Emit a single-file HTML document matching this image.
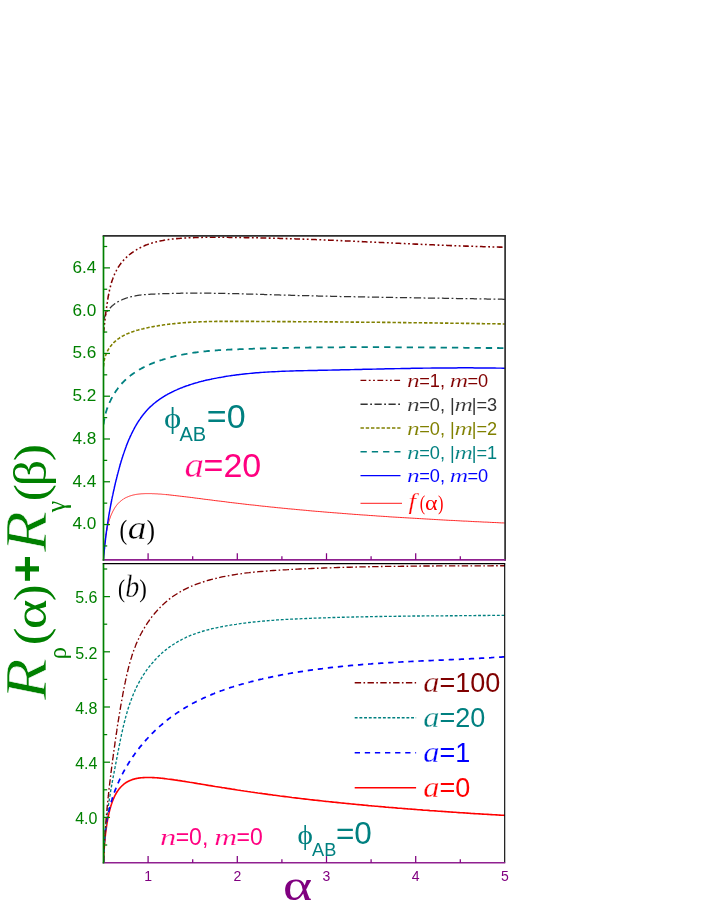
<!DOCTYPE html>
<html><head><meta charset="utf-8"><title>chart</title>
<style>html,body{margin:0;padding:0;background:#fff;}svg{display:block;will-change:transform;}text{font-family:"Liberation Sans",sans-serif;}.s{font-family:"Liberation Serif",serif;}.i{font-family:"Liberation Serif",serif;font-style:italic;}.b{font-weight:bold;}</style></head><body>
<svg width="706" height="913" viewBox="0 0 706 913">
<rect width="706" height="913" fill="#fff"/>
<defs><clipPath id="ca"><rect x="103.5" y="235.9" width="401.9" height="323.95000000000005"/></clipPath><clipPath id="cb"><rect x="103.5" y="563.7" width="401.9" height="299.0"/></clipPath></defs>
<g fill="none" clip-path="url(#ca)" stroke-linecap="butt">
<path d="M103.5,559.2 103.8,554.1 104.0,550.7 104.3,547.8 104.5,545.3 104.8,543.0 105.0,541.0 105.3,539.1 105.5,537.4 105.8,535.8 106.0,534.2 106.3,532.8 106.5,531.5 106.8,530.2 107.0,529.0 107.3,527.8 107.5,526.7 107.8,525.7 108.0,524.7 108.3,523.7 108.5,522.8 108.8,521.9 109.0,521.1 109.3,520.2 109.5,519.5 109.8,518.7 110.0,518.0 110.3,517.3 110.5,516.6 110.8,515.9 111.0,515.3 111.3,514.7 111.5,514.1 111.8,513.5 112.0,513.0 112.3,512.5 112.5,511.9 112.8,511.4 113.0,510.9 113.3,510.5 113.5,510.0 113.8,509.6 114.0,509.1 114.3,508.7 114.5,508.3 114.8,507.9 115.0,507.5 115.3,507.1 115.5,506.8 115.8,506.4 116.0,506.1 116.3,505.7 116.5,505.4 116.8,505.1 117.0,504.8 117.3,504.5 117.5,504.2 117.8,503.9 118.0,503.6 118.3,503.3 118.5,503.1 118.8,502.8 119.0,502.6 119.3,502.3 119.5,502.1 119.8,501.8 120.1,501.6 120.3,501.4 120.6,501.2 120.8,501.0 121.1,500.8 121.3,500.6 121.6,500.4 121.8,500.2 122.1,500.0 122.3,499.8 122.6,499.6 122.8,499.5 123.1,499.3 123.3,499.1 123.6,499.0 123.8,498.8 124.1,498.6 124.3,498.5 124.6,498.4 124.8,498.2 125.1,498.1 125.3,497.9 125.6,497.8 125.8,497.7 126.1,497.6 126.3,497.4 126.6,497.3 126.8,497.2 127.1,497.1 127.3,497.0 127.6,496.9 127.8,496.8 128.1,496.7 128.3,496.6 128.6,496.5 128.8,496.4 129.1,496.3 129.3,496.2 129.6,496.1 129.8,496.0 130.1,495.9 130.3,495.8 130.6,495.8 130.8,495.7 131.1,495.6 131.3,495.5 131.6,495.5 131.8,495.4 132.1,495.3 132.3,495.3 132.6,495.2 132.8,495.1 133.1,495.1 133.3,495.0 133.6,494.9 133.8,494.9 134.1,494.8 134.3,494.8 134.6,494.7 134.8,494.7 135.1,494.6 135.3,494.6 135.6,494.5 135.8,494.5 136.1,494.5 136.3,494.4 136.6,494.4 136.9,494.3 137.1,494.3 137.4,494.3 137.6,494.2 137.9,494.2 138.1,494.2 138.4,494.1 138.6,494.1 138.9,494.1 139.1,494.0 139.4,494.0 139.6,494.0 139.9,494.0 140.1,493.9 140.4,493.9 140.6,493.9 140.9,493.9 141.1,493.8 141.4,493.8 141.6,493.8 141.9,493.8 142.1,493.8 142.4,493.8 142.6,493.7 142.9,493.7 143.1,493.7 143.4,493.7 143.6,493.7 143.9,493.7 144.1,493.7 144.4,493.7 144.6,493.6 144.9,493.6 145.1,493.6 145.4,493.6 145.6,493.6 145.9,493.6 146.1,493.6 146.4,493.6 146.6,493.6 146.9,493.6 147.1,493.6 147.4,493.6 147.6,493.6 147.9,493.6 148.1,493.6 148.4,493.6 148.6,493.6 148.9,493.6 149.1,493.6 149.4,493.6 149.6,493.6 149.9,493.6 150.1,493.6 150.4,493.6 150.6,493.6 150.9,493.6 151.1,493.6 151.4,493.6 151.6,493.6 151.9,493.6 152.1,493.7 152.4,493.7 152.6,493.7 152.9,493.7 153.2,493.7 153.4,493.7 153.7,493.7 153.9,493.7 154.2,493.7 154.4,493.7 154.7,493.8 154.9,493.8 155.2,493.8 155.4,493.8 155.7,493.8 155.9,493.8 156.2,493.8 156.4,493.8 156.7,493.9 156.9,493.9 157.2,493.9 157.4,493.9 157.7,493.9 157.9,493.9 158.2,494.0 158.4,494.0 158.7,494.0 158.9,494.0 159.2,494.0 159.4,494.0 159.7,494.1 159.9,494.1 160.2,494.1 160.4,494.1 160.7,494.1 160.9,494.2 161.2,494.2 161.4,494.2 161.7,494.2 161.9,494.2 162.2,494.3 162.4,494.3 162.7,494.3 162.9,494.3 163.2,494.3 163.4,494.4 163.7,494.4 163.9,494.4 164.2,494.4 164.4,494.4 164.7,494.5 164.9,494.5 165.2,494.5 165.4,494.5 165.7,494.6 165.9,494.6 167.6,494.7 169.3,494.9 171.0,495.1 172.8,495.3 174.5,495.5 176.2,495.7 177.9,495.9 179.6,496.1 181.3,496.3 183.0,496.5 184.7,496.7 186.4,496.9 188.1,497.1 189.8,497.3 191.5,497.5 193.2,497.7 194.9,498.0 196.6,498.2 198.3,498.4 200.0,498.6 201.7,498.8 203.4,499.1 205.1,499.3 206.8,499.5 208.5,499.7 210.2,499.9 211.9,500.1 213.6,500.4 215.3,500.6 217.0,500.8 218.7,501.0 220.4,501.2 222.1,501.4 223.9,501.6 225.6,501.8 227.3,502.1 229.0,502.3 230.7,502.5 232.4,502.7 234.1,502.9 235.8,503.1 237.5,503.3 239.2,503.5 240.9,503.7 242.6,503.9 244.3,504.1 246.0,504.3 247.7,504.5 249.4,504.7 251.1,504.9 252.8,505.0 254.5,505.2 256.2,505.4 257.9,505.6 259.6,505.8 261.3,506.0 263.0,506.2 264.7,506.3 266.4,506.5 268.1,506.7 269.8,506.9 271.5,507.1 273.2,507.2 275.0,507.4 276.7,507.6 278.4,507.8 280.1,507.9 281.8,508.1 283.5,508.3 285.2,508.4 286.9,508.6 288.6,508.8 290.3,508.9 292.0,509.1 293.7,509.2 295.4,509.4 297.1,509.6 298.8,509.7 300.5,509.9 302.2,510.0 303.9,510.2 305.6,510.3 307.3,510.5 309.0,510.7 310.7,510.8 312.4,511.0 314.1,511.1 315.8,511.3 317.5,511.4 319.2,511.5 320.9,511.7 322.6,511.8 324.3,512.0 326.1,512.1 327.8,512.3 329.5,512.4 331.2,512.5 332.9,512.7 334.6,512.8 336.3,512.9 338.0,513.1 339.7,513.2 341.4,513.3 343.1,513.5 344.8,513.6 346.5,513.7 348.2,513.9 349.9,514.0 351.6,514.1 353.3,514.3 355.0,514.4 356.7,514.5 358.4,514.6 360.1,514.8 361.8,514.9 363.5,515.0 365.2,515.1 366.9,515.2 368.6,515.4 370.3,515.5 372.0,515.6 373.7,515.7 375.4,515.8 377.2,516.0 378.9,516.1 380.6,516.2 382.3,516.3 384.0,516.4 385.7,516.5 387.4,516.6 389.1,516.8 390.8,516.9 392.5,517.0 394.2,517.1 395.9,517.2 397.6,517.3 399.3,517.4 401.0,517.5 402.7,517.6 404.4,517.7 406.1,517.8 407.8,517.9 409.5,518.0 411.2,518.1 412.9,518.2 414.6,518.3 416.3,518.4 418.0,518.5 419.7,518.6 421.4,518.7 423.1,518.8 424.8,518.9 426.5,519.0 428.3,519.1 430.0,519.2 431.7,519.3 433.4,519.4 435.1,519.5 436.8,519.6 438.5,519.7 440.2,519.8 441.9,519.9 443.6,520.0 445.3,520.1 447.0,520.2 448.7,520.3 450.4,520.4 452.1,520.4 453.8,520.5 455.5,520.6 457.2,520.7 458.9,520.8 460.6,520.9 462.3,521.0 464.0,521.1 465.7,521.1 467.4,521.2 469.1,521.3 470.8,521.4 472.5,521.5 474.2,521.6 475.9,521.7 477.6,521.7 479.4,521.8 481.1,521.9 482.8,522.0 484.5,522.1 486.2,522.1 487.9,522.2 489.6,522.3 491.3,522.4 493.0,522.5 494.7,522.5 496.4,522.6 498.1,522.7 499.8,522.8 501.5,522.9 503.2,522.9 504.9,523.0" stroke="#ff0000" stroke-width="0.85"/>
<path d="M103.5,559.3 103.6,558.0 103.7,557.3 103.7,556.7 103.8,555.3 103.8,555.2 104.0,554.0 104.0,553.2 104.1,552.7 104.2,551.4 104.2,551.2 104.3,550.1 104.4,549.1 104.5,548.8 104.6,547.5 104.6,547.1 104.7,546.2 104.8,545.1 104.9,544.9 105.0,543.6 105.1,543.1 105.2,542.3 105.3,541.1 105.3,541.0 105.5,539.7 105.5,539.0 105.6,538.4 105.8,537.1 105.8,537.0 105.9,535.8 106.0,535.0 106.1,534.5 106.3,533.2 106.3,533.0 106.4,531.9 106.5,531.0 106.6,530.6 106.8,529.4 106.8,529.0 106.9,528.1 107.1,527.0 107.1,526.8 107.3,525.5 107.4,525.1 107.5,524.2 107.7,523.1 107.7,522.9 107.9,521.6 108.0,521.1 108.1,520.4 108.3,519.1 108.3,519.1 108.5,517.8 108.6,517.1 108.7,516.5 108.9,515.2 108.9,515.1 109.1,514.0 109.3,513.1 109.3,512.7 109.6,511.4 109.6,511.2 109.8,510.1 110.0,509.2 110.0,508.9 110.3,507.6 110.3,507.2 110.5,506.3 110.7,505.2 110.7,505.0 111.0,503.8 111.1,503.3 111.2,502.5 111.5,501.3 111.5,501.2 111.7,499.9 111.8,499.3 112.0,498.7 112.2,497.4 112.2,497.4 112.5,496.1 112.7,495.4 112.8,494.9 113.0,493.6 113.1,493.4 113.3,492.3 113.5,491.4 113.6,491.0 113.9,489.8 113.9,489.5 114.2,488.5 114.4,487.5 114.4,487.2 114.7,486.0 114.8,485.5 115.0,484.7 115.3,483.6 115.3,483.4 115.6,482.1 115.8,481.6 115.9,480.9 116.2,479.6 116.3,479.6 116.6,478.3 116.7,477.6 116.9,477.0 117.2,475.8 117.2,475.7 117.5,474.5 117.7,473.7 117.9,473.2 118.2,471.9 118.3,471.7 118.5,470.7 118.8,469.7 118.9,469.4 119.2,468.1 119.3,467.8 119.6,466.8 119.9,465.8 119.9,465.6 120.3,464.3 120.4,463.8 120.7,463.0 121.0,461.8 121.0,461.8 121.4,460.5 121.6,459.9 121.8,459.2 122.2,458.0 122.2,457.9 122.6,456.7 122.8,456.0 123.0,455.4 123.4,454.2 123.5,454.0 123.9,452.9 124.1,452.1 124.3,451.7 124.7,450.4 124.8,450.1 125.2,449.2 125.5,448.2 125.6,447.9 126.1,446.7 126.2,446.3 126.5,445.4 127.0,444.4 127.0,444.2 127.5,443.0 127.7,442.5 128.0,441.8 128.5,440.6 128.5,440.5 129.0,439.3 129.3,438.7 129.6,438.1 130.1,436.9 130.1,436.8 130.7,435.7 131.0,435.0 131.2,434.5 131.8,433.3 131.9,433.1 132.4,432.1 132.8,431.3 133.0,431.0 133.6,429.8 133.7,429.5 134.2,428.6 134.7,427.7 134.8,427.5 135.4,426.3 135.7,425.9 136.1,425.2 136.7,424.2 136.8,424.1 137.4,423.0 137.8,422.4 138.1,421.8 138.8,420.8 138.9,420.7 139.6,419.7 140.0,419.1 140.3,418.6 141.0,417.5 141.1,417.4 141.8,416.5 142.3,415.8 142.6,415.5 143.4,414.5 143.5,414.2 144.2,413.5 144.8,412.7 145.0,412.5 145.8,411.5 146.1,411.2 146.7,410.6 147.4,409.7 147.5,409.6 148.4,408.7 148.8,408.3 149.3,407.8 150.2,406.9 150.2,406.9 151.2,406.0 151.7,405.6 152.1,405.2 153.1,404.4 153.1,404.3 154.0,403.5 154.7,403.0 155.0,402.7 156.0,401.9 156.2,401.8 157.0,401.2 157.8,400.6 158.1,400.4 159.1,399.7 159.4,399.5 160.1,398.9 161.0,398.4 161.2,398.2 162.3,397.5 162.7,397.3 163.3,396.8 164.3,396.2 164.4,396.2 165.5,395.5 166.1,395.2 166.7,394.9 167.8,394.2 167.8,394.2 168.9,393.6 169.5,393.3 170.0,393.0 171.2,392.4 171.3,392.4 172.3,391.8 173.1,391.5 173.5,391.3 174.7,390.7 174.9,390.6 175.9,390.2 176.8,389.8 177.0,389.7 178.2,389.1 178.6,389.0 179.4,388.6 180.5,388.2 180.6,388.1 181.8,387.7 182.3,387.5 183.1,387.2 184.2,386.7 184.3,386.7 185.5,386.3 186.1,386.0 186.8,385.8 188.0,385.4 188.1,385.4 189.2,385.0 190.0,384.7 190.5,384.6 191.7,384.2 191.9,384.1 193.0,383.8 193.9,383.5 194.3,383.4 195.5,383.0 195.9,382.9 196.8,382.7 197.8,382.4 198.1,382.3 199.4,381.9 199.8,381.8 200.6,381.6 201.8,381.3 201.9,381.3 203.2,381.0 203.8,380.8 204.5,380.6 205.8,380.3 205.8,380.3 207.1,380.0 207.8,379.9 208.4,379.7 209.7,379.5 209.8,379.4 211.0,379.2 211.8,379.0 212.3,378.9 213.6,378.6 213.8,378.6 214.9,378.4 215.9,378.2 216.2,378.1 217.5,377.9 217.9,377.8 218.8,377.6 219.9,377.4 220.1,377.4 221.4,377.2 221.9,377.1 222.7,377.0 223.9,376.8 224.0,376.7 225.3,376.5 225.9,376.4 226.6,376.3 227.9,376.1 228.0,376.1 229.2,375.9 230.0,375.8 230.5,375.7 231.8,375.5 232.0,375.5 233.1,375.4 234.0,375.2 234.4,375.2 235.7,375.0 236.0,375.0 237.0,374.8 238.1,374.7 238.3,374.7 239.6,374.5 240.1,374.5 240.9,374.4 242.1,374.2 244.1,374.0 246.1,373.8 248.1,373.6 250.2,373.4 252.2,373.2 254.2,373.0 256.2,372.8 258.2,372.7 260.2,372.5 262.3,372.4 264.3,372.2 266.3,372.1 268.3,372.0 270.3,371.9 272.4,371.8 274.4,371.7 276.4,371.6 278.4,371.5 280.4,371.4 282.4,371.3 284.5,371.2 286.5,371.1 288.5,371.1 290.5,371.0 292.5,371.0 294.6,370.9 296.6,370.8 298.6,370.8 300.6,370.7 302.6,370.7 304.7,370.6 306.7,370.6 308.7,370.5 310.7,370.5 312.7,370.5 314.8,370.4 316.8,370.4 318.8,370.3 320.8,370.3 322.8,370.2 324.8,370.2 326.9,370.2 328.9,370.1 330.9,370.1 332.9,370.0 334.9,370.0 337.0,369.9 339.0,369.9 341.0,369.8 343.0,369.8 345.1,369.8 347.1,369.7 349.1,369.7 351.1,369.6 353.1,369.6 355.2,369.5 357.2,369.5 359.2,369.4 361.2,369.4 363.2,369.3 365.3,369.3 367.3,369.2 369.3,369.2 371.3,369.2 373.3,369.1 375.4,369.1 377.4,369.0 379.4,369.0 381.4,368.9 383.5,368.9 385.5,368.8 387.5,368.8 389.5,368.8 391.5,368.7 393.6,368.7 395.6,368.6 397.6,368.6 399.6,368.6 401.7,368.5 403.7,368.5 405.7,368.4 407.7,368.4 409.8,368.4 411.8,368.3 413.8,368.3 415.8,368.3 417.9,368.2 419.9,368.2 421.9,368.2 423.9,368.1 425.9,368.1 428.0,368.1 430.0,368.1 432.0,368.0 434.0,368.0 436.1,368.0 438.1,368.0 440.1,368.0 442.1,367.9 444.2,367.9 446.2,367.9 448.2,367.9 450.3,367.9 452.3,367.9 454.3,367.9 456.3,367.9 458.4,367.8 460.4,367.8 462.4,367.8 464.4,367.8 466.5,367.8 468.5,367.8 470.5,367.8 472.5,367.8 474.6,367.9 476.6,367.9 478.6,367.9 480.7,367.9 482.7,367.9 484.7,367.9 486.7,367.9 488.8,368.0 490.8,368.0 492.8,368.0 494.9,368.0 496.9,368.1 498.9,368.1 500.9,368.1 503.0,368.2 505.0,368.2" stroke="#0000ff" stroke-width="1.45"/>
<path d="M103.6,424.5 103.7,423.2 103.8,422.8 103.9,421.9 104.0,421.1 104.1,420.6 104.3,419.5 104.3,419.3 104.5,418.0 104.6,417.8 104.8,416.7 104.9,416.1 105.1,415.4 105.3,414.5 105.4,414.2 105.8,412.9 105.8,412.8 106.1,411.6 106.3,411.2 106.5,410.4 106.8,409.6 106.9,409.1 107.3,408.0 107.4,407.9 107.8,406.6 107.9,406.4 108.3,405.4 108.6,404.8 108.8,404.2 109.2,403.3 109.3,403.0 109.9,401.8 109.9,401.7 110.5,400.6 110.7,400.2 111.0,399.5 111.4,398.7 111.6,398.3 112.2,397.2 112.2,397.1 112.9,396.0 113.0,395.7 113.5,394.9 113.9,394.3 114.2,393.8 114.8,392.9 114.9,392.7 115.6,391.6 115.7,391.5 116.3,390.5 116.6,390.1 117.1,389.4 117.6,388.7 117.8,388.4 118.6,387.4 118.6,387.4 119.4,386.4 119.6,386.1 120.2,385.4 120.7,384.8 121.0,384.4 121.8,383.6 121.9,383.4 122.8,382.5 122.9,382.4 123.7,381.6 124.1,381.2 124.6,380.7 125.3,380.0 125.5,379.8 126.5,378.9 126.5,378.9 127.4,378.1 127.7,377.8 128.4,377.2 129.0,376.7 129.4,376.4 130.3,375.7 130.4,375.6 131.5,374.8 131.6,374.7 132.5,374.1 133.0,373.7 133.6,373.3 134.4,372.8 134.7,372.6 135.7,371.9 135.8,371.8 136.8,371.2 137.2,370.9 138.0,370.5 138.7,370.1 139.1,369.8 140.1,369.2 140.2,369.2 141.4,368.5 141.6,368.4 142.5,367.9 143.1,367.6 143.7,367.3 144.7,366.8 144.9,366.7 146.1,366.1 146.2,366.1 147.3,365.5 147.7,365.3 148.5,365.0 149.3,364.6 149.7,364.5 150.9,364.0 150.9,363.9 152.2,363.4 152.5,363.3 153.4,362.9 154.1,362.7 154.6,362.4 155.7,362.0 155.9,362.0 157.1,361.5 157.3,361.5 158.4,361.1 158.9,360.9 159.6,360.6 160.5,360.3 160.9,360.2 162.2,359.8 162.2,359.8 163.4,359.4 163.8,359.3 164.7,359.0 165.4,358.8 166.0,358.6 167.1,358.3 167.2,358.2 168.5,357.9 168.7,357.8 169.8,357.5 170.3,357.4 171.1,357.2 172.0,356.9 172.3,356.9 173.6,356.5 173.6,356.5 174.9,356.2 175.3,356.1 176.1,355.9 176.9,355.8 177.4,355.6 178.6,355.4 178.7,355.4 180.0,355.1 180.2,355.0 181.2,354.8 181.9,354.7 182.5,354.6 183.5,354.4 183.8,354.3 185.1,354.1 185.2,354.1 186.4,353.9 186.8,353.8 187.6,353.6 188.5,353.5 188.9,353.4 190.1,353.2 190.2,353.2 191.5,353.0 191.8,353.0 192.8,352.8 193.4,352.7 194.0,352.6 195.1,352.5 195.3,352.5 196.6,352.3 196.7,352.3 197.9,352.1 198.4,352.1 199.2,352.0 200.0,351.9 200.5,351.8 201.7,351.7 201.7,351.7 203.0,351.5 203.4,351.5 204.3,351.4 205.0,351.3 205.6,351.3 206.7,351.1 206.9,351.1 208.2,351.0 208.3,351.0 209.5,350.9 210.0,350.8 210.7,350.8 211.7,350.7 212.0,350.7 213.3,350.6 213.3,350.6 214.6,350.5 215.0,350.5 215.9,350.4 216.7,350.3 217.2,350.3 218.3,350.2 218.5,350.2 219.8,350.1 220.0,350.1 221.1,350.1 221.7,350.0 222.4,350.0 223.3,349.9 223.6,349.9 224.9,349.8 225.0,349.8 226.2,349.8 226.7,349.8 227.5,349.7 228.3,349.7 228.8,349.7 230.0,349.6 230.1,349.6 231.4,349.5 231.7,349.5 232.7,349.5 233.4,349.5 234.0,349.4 235.0,349.4 235.3,349.4 236.6,349.3 236.7,349.3 237.9,349.3 238.4,349.3 239.2,349.2 240.0,349.2 240.5,349.2 241.7,349.1 241.8,349.1 243.1,349.1 243.4,349.1 244.4,349.0 245.1,349.0 245.7,349.0 246.8,349.0 247.0,349.0 248.3,348.9 248.4,348.9 249.6,348.9 250.1,348.8 250.9,348.8 251.8,348.8 252.2,348.8 253.5,348.7 253.5,348.7 254.8,348.7 255.2,348.7 256.1,348.7 256.8,348.6 257.4,348.6 258.5,348.6 258.7,348.6 260.0,348.5 260.2,348.5 261.3,348.5 261.9,348.5 262.6,348.5 263.6,348.4 263.9,348.4 265.2,348.4 265.3,348.4 266.5,348.4 266.9,348.4 267.8,348.3 268.6,348.3 269.1,348.3 270.3,348.3 270.4,348.3 271.8,348.2 272.0,348.2 273.1,348.2 273.7,348.2 274.4,348.2 275.4,348.1 275.7,348.1 277.0,348.1 277.1,348.1 278.3,348.1 278.7,348.1 279.6,348.1 280.4,348.0 280.9,348.0 282.1,348.0 282.2,348.0 283.5,348.0 283.8,348.0 284.8,347.9 285.5,347.9 286.1,347.9 287.2,347.9 287.4,347.9 288.8,347.9 288.9,347.9 290.1,347.8 290.6,347.8 291.4,347.8 292.3,347.8 292.7,347.8 293.9,347.8 294.0,347.8 295.3,347.7 295.6,347.7 296.6,347.7 297.3,347.7 297.9,347.7 299.0,347.7 299.2,347.7 300.6,347.7 300.7,347.7 301.9,347.6 302.4,347.6 303.2,347.6 304.1,347.6 304.5,347.6 305.8,347.6 305.8,347.6 307.1,347.6 307.5,347.6 308.4,347.6 309.2,347.5 309.7,347.5 310.9,347.5 311.0,347.5 312.4,347.5 312.6,347.5 313.7,347.5 314.3,347.5 315.0,347.5 316.0,347.5 316.3,347.5 317.6,347.4 317.7,347.4 318.9,347.4 319.4,347.4 320.2,347.4 321.0,347.4 321.6,347.4 322.7,347.4 322.9,347.4 324.2,347.4 324.4,347.4 325.5,347.4 326.1,347.4 326.8,347.4 327.8,347.3 328.1,347.3 329.5,347.3 331.2,347.3 332.9,347.3 334.6,347.3 336.3,347.3 338.0,347.3 339.7,347.3 341.4,347.3 343.1,347.2 344.8,347.2 346.5,347.2 348.2,347.2 349.9,347.2 351.6,347.2 353.3,347.2 355.0,347.2 356.7,347.2 358.4,347.2 360.1,347.2 361.8,347.2 363.5,347.2 365.2,347.2 366.9,347.2 368.6,347.2 370.3,347.2 372.0,347.2 373.7,347.2 375.4,347.2 377.1,347.2 378.7,347.2 380.4,347.2 382.1,347.2 383.8,347.2 385.5,347.2 387.2,347.2 388.9,347.2 390.6,347.2 392.3,347.2 394.0,347.3 395.7,347.3 397.4,347.3 399.1,347.3 400.8,347.3 402.5,347.3 404.2,347.3 405.9,347.3 407.6,347.3 409.3,347.3 411.0,347.3 412.6,347.4 414.3,347.4 416.0,347.4 417.7,347.4 419.4,347.4 421.1,347.4 422.8,347.4 424.5,347.4 426.2,347.4 427.9,347.5 429.6,347.5 431.2,347.5 432.9,347.5 434.6,347.5 436.3,347.5 438.0,347.5 439.7,347.5 441.4,347.6 443.1,347.6 444.7,347.6 446.4,347.6 448.1,347.6 449.8,347.6 451.5,347.6 453.2,347.7 454.8,347.7 456.5,347.7 458.2,347.7 459.9,347.7 461.6,347.7 463.2,347.7 464.9,347.8 466.6,347.8 468.3,347.8 469.9,347.8 471.6,347.8 473.3,347.8 475.0,347.9 476.6,347.9 478.3,347.9 480.0,347.9 481.7,347.9 483.3,347.9 485.0,347.9 486.7,348.0 488.3,348.0 490.0,348.0 491.7,348.0 493.4,348.0 495.0,348.0 496.7,348.0 498.3,348.0 500.0,348.1 501.7,348.1 503.3,348.1 505.0,348.1" stroke="#008080" stroke-width="1.8" stroke-dasharray="6.3 5"/>
<path d="M103.6,366.5 103.6,365.1 103.7,364.7 103.8,363.7 103.8,363.0 103.9,362.3 104.1,361.3 104.1,361.0 104.4,359.6 104.4,359.6 104.7,358.3 104.8,358.0 105.0,357.1 105.2,356.4 105.5,355.8 105.8,354.9 105.9,354.6 106.4,353.4 106.4,353.4 106.9,352.2 107.1,351.9 107.5,351.0 107.8,350.5 108.1,349.9 108.6,349.1 108.8,348.8 109.5,347.8 109.5,347.8 110.2,346.7 110.4,346.5 111.0,345.7 111.4,345.3 111.8,344.8 112.4,344.1 112.7,343.8 113.5,342.9 113.5,342.9 114.4,342.0 114.6,341.8 115.4,341.2 115.8,340.8 116.3,340.3 117.0,339.8 117.3,339.5 118.3,338.8 118.3,338.8 119.4,338.1 119.6,337.9 120.4,337.4 120.9,337.1 121.5,336.7 122.2,336.3 122.6,336.1 123.6,335.5 123.7,335.5 124.9,334.9 125.1,334.8 126.0,334.3 126.5,334.1 127.2,333.8 128.0,333.5 128.4,333.3 129.5,332.9 129.6,332.8 130.8,332.4 131.0,332.3 132.0,331.9 132.5,331.7 133.3,331.5 134.1,331.2 134.5,331.1 135.6,330.7 135.8,330.7 137.0,330.3 137.2,330.3 138.3,330.0 138.8,329.8 139.6,329.6 140.4,329.4 140.9,329.3 142.0,329.0 142.2,329.0 143.4,328.7 143.6,328.6 144.7,328.4 145.2,328.3 146.0,328.1 146.9,327.9 147.3,327.8 148.5,327.6 148.6,327.5 149.9,327.3 150.1,327.2 151.2,327.0 151.7,326.9 152.5,326.8 153.3,326.6 153.8,326.5 154.9,326.3 155.1,326.3 156.4,326.1 156.6,326.0 157.7,325.9 158.2,325.8 159.0,325.6 159.8,325.5 160.3,325.4 161.4,325.3 161.6,325.2 162.9,325.0 163.0,325.0 164.2,324.8 164.6,324.8 165.5,324.7 166.3,324.6 166.8,324.5 167.9,324.3 168.1,324.3 169.4,324.2 169.5,324.1 170.7,324.0 171.1,324.0 172.0,323.9 172.7,323.8 173.3,323.7 174.4,323.6 174.6,323.6 175.9,323.4 176.0,323.4 177.2,323.3 177.6,323.3 178.5,323.2 179.2,323.1 179.8,323.1 180.8,323.0 181.1,323.0 182.4,322.8 182.5,322.8 183.7,322.7 184.1,322.7 185.0,322.6 185.7,322.6 186.3,322.6 187.3,322.5 187.6,322.5 188.9,322.4 188.9,322.4 190.2,322.3 190.6,322.3 191.5,322.2 192.2,322.2 192.8,322.2 193.8,322.1 194.1,322.1 195.4,322.0 195.4,322.0 196.7,322.0 197.1,321.9 198.0,321.9 198.7,321.9 199.3,321.9 200.3,321.8 200.6,321.8 201.9,321.8 201.9,321.8 203.2,321.7 203.6,321.7 204.5,321.7 205.2,321.7 205.8,321.6 206.8,321.6 207.1,321.6 208.4,321.6 208.4,321.6 209.7,321.5 210.0,321.5 211.0,321.5 211.7,321.5 212.3,321.5 213.3,321.5 213.6,321.5 214.9,321.5 214.9,321.5 216.2,321.4 216.5,321.4 217.5,321.4 218.2,321.4 218.8,321.4 219.8,321.4 220.1,321.4 221.4,321.4 221.4,321.4 222.7,321.4 223.1,321.4 224.0,321.4 224.7,321.4 225.3,321.4 226.3,321.4 226.6,321.4 227.9,321.4 227.9,321.4 229.2,321.4 229.6,321.4 230.5,321.4 231.2,321.4 231.9,321.4 232.8,321.4 233.2,321.4 234.4,321.4 234.5,321.4 235.8,321.4 236.1,321.4 237.1,321.4 237.7,321.4 238.4,321.4 239.3,321.4 239.7,321.4 240.9,321.4 241.0,321.4 242.3,321.4 242.6,321.4 243.6,321.4 244.2,321.4 244.9,321.4 245.8,321.4 246.2,321.4 247.5,321.4 247.5,321.4 248.8,321.4 249.1,321.4 250.1,321.4 250.7,321.4 251.4,321.4 252.3,321.4 252.7,321.4 254.0,321.4 254.0,321.4 255.3,321.5 255.6,321.5 256.7,321.5 257.2,321.5 258.0,321.5 258.9,321.5 259.3,321.5 260.5,321.5 260.6,321.5 261.9,321.5 262.1,321.5 263.2,321.5 263.8,321.5 264.5,321.5 265.4,321.5 265.8,321.5 267.0,321.5 267.1,321.5 268.4,321.5 268.6,321.5 269.7,321.5 270.3,321.5 271.0,321.5 271.9,321.5 272.3,321.5 273.5,321.5 273.6,321.5 275.0,321.5 275.2,321.5 276.3,321.6 276.8,321.6 277.6,321.6 278.4,321.6 278.9,321.6 280.1,321.6 280.2,321.6 281.5,321.6 281.7,321.6 282.8,321.6 283.3,321.6 284.1,321.6 284.9,321.6 285.4,321.6 286.6,321.6 286.7,321.6 288.0,321.6 288.2,321.6 289.3,321.6 289.8,321.6 290.6,321.6 291.5,321.6 292.0,321.6 293.1,321.6 293.3,321.6 294.6,321.7 294.7,321.7 295.9,321.7 296.4,321.7 297.2,321.7 298.0,321.7 298.5,321.7 299.6,321.7 299.8,321.7 301.1,321.7 301.3,321.7 302.4,321.7 302.9,321.7 303.7,321.7 304.5,321.7 305.0,321.7 306.2,321.7 306.3,321.7 307.7,321.7 307.8,321.7 309.0,321.7 309.4,321.7 310.3,321.8 311.1,321.8 311.6,321.8 312.7,321.8 312.9,321.8 314.2,321.8 314.3,321.8 315.5,321.8 316.0,321.8 316.8,321.8 317.6,321.8 318.1,321.8 319.2,321.8 319.4,321.8 320.7,321.8 320.8,321.8 322.1,321.8 322.5,321.8 323.4,321.8 324.1,321.9 324.7,321.9 325.7,321.9 326.0,321.9 327.3,321.9 327.4,321.9 328.6,321.9 329.0,321.9 329.9,321.9 330.6,321.9 331.2,321.9 332.3,321.9 332.5,321.9 333.8,321.9 333.9,321.9 335.1,321.9 335.5,321.9 336.5,321.9 337.2,322.0 337.8,322.0 338.8,322.0 339.1,322.0 340.4,322.0 340.4,322.0 341.7,322.0 342.1,322.0 343.0,322.0 343.7,322.0 345.3,322.0 347.0,322.0 348.6,322.0 350.2,322.1 351.9,322.1 353.5,322.1 355.1,322.1 356.8,322.1 358.4,322.1 360.0,322.2 361.7,322.2 363.3,322.2 364.9,322.2 366.6,322.2 368.2,322.2 369.8,322.2 371.5,322.3 373.1,322.3 374.7,322.3 376.4,322.3 378.0,322.3 379.6,322.3 381.3,322.4 382.9,322.4 384.5,322.4 386.2,322.4 387.8,322.4 389.4,322.4 391.0,322.5 392.7,322.5 394.3,322.5 395.9,322.5 397.6,322.5 399.2,322.5 400.8,322.6 402.5,322.6 404.1,322.6 405.7,322.6 407.4,322.6 409.0,322.7 410.6,322.7 412.3,322.7 413.9,322.7 415.5,322.7 417.1,322.8 418.8,322.8 420.4,322.8 422.0,322.8 423.7,322.8 425.3,322.9 426.9,322.9 428.6,322.9 430.2,322.9 431.8,322.9 433.5,323.0 435.1,323.0 436.7,323.0 438.3,323.0 440.0,323.0 441.6,323.1 443.2,323.1 444.9,323.1 446.5,323.1 448.1,323.1 449.7,323.2 451.4,323.2 453.0,323.2 454.6,323.2 456.3,323.3 457.9,323.3 459.5,323.3 461.1,323.3 462.8,323.4 464.4,323.4 466.0,323.4 467.6,323.4 469.3,323.4 470.9,323.5 472.5,323.5 474.1,323.5 475.8,323.5 477.4,323.6 479.0,323.6 480.6,323.6 482.3,323.6 483.9,323.7 485.5,323.7 487.1,323.7 488.8,323.7 490.4,323.8 492.0,323.8 493.6,323.8 495.3,323.8 496.9,323.9 498.5,323.9 500.1,323.9 501.8,323.9 503.4,324.0 505.0,324.0" stroke="#808000" stroke-width="1.6" stroke-dasharray="3.4 1.85"/>
<path d="M103.6,320.5 103.9,319.1 104.0,318.8 104.4,317.7 104.6,317.1 104.8,316.4 105.2,315.6 105.4,315.1 105.9,314.1 105.9,313.9 106.6,312.7 106.6,312.6 107.2,311.6 107.5,311.3 108.0,310.5 108.4,310.0 108.8,309.5 109.4,308.8 109.6,308.5 110.4,307.6 110.4,307.6 111.3,306.7 111.5,306.5 112.3,305.8 112.7,305.5 113.2,305.0 113.9,304.5 114.2,304.2 115.1,303.6 115.2,303.5 116.3,302.8 116.4,302.7 117.4,302.1 117.7,301.9 118.5,301.5 119.1,301.2 119.6,300.9 120.4,300.5 120.7,300.3 121.8,299.8 121.9,299.8 123.0,299.3 123.3,299.2 124.2,298.9 124.7,298.7 125.4,298.4 126.1,298.2 126.6,298.0 127.6,297.7 127.8,297.6 129.0,297.3 129.1,297.3 130.3,296.9 130.6,296.9 131.5,296.6 132.1,296.5 132.7,296.3 133.6,296.2 134.0,296.1 135.2,295.9 135.3,295.8 136.5,295.6 136.7,295.6 137.8,295.4 138.3,295.4 139.1,295.2 139.8,295.1 140.4,295.1 141.4,294.9 141.7,294.9 143.0,294.8 143.0,294.8 144.3,294.6 144.6,294.6 145.6,294.5 146.2,294.5 146.9,294.4 147.8,294.4 148.2,294.3 149.4,294.3 149.5,294.3 150.8,294.2 151.0,294.2 152.1,294.1 152.6,294.1 153.5,294.0 154.2,294.0 154.8,294.0 155.8,293.9 156.1,293.9 157.4,293.9 157.4,293.9 158.7,293.8 159.0,293.8 160.1,293.8 160.6,293.7 161.4,293.7 162.3,293.7 162.7,293.7 163.9,293.6 164.0,293.6 165.3,293.6 165.5,293.6 166.6,293.6 167.1,293.5 168.0,293.5 168.7,293.5 169.3,293.5 170.3,293.5 170.6,293.4 171.9,293.4 171.9,293.4 173.2,293.4 173.5,293.4 174.6,293.4 175.1,293.3 175.9,293.3 176.7,293.3 177.2,293.3 178.3,293.3 178.5,293.3 179.8,293.3 179.9,293.3 181.1,293.2 181.5,293.2 182.5,293.2 183.1,293.2 183.8,293.2 184.7,293.2 185.1,293.2 186.4,293.2 186.4,293.2 187.7,293.2 188.0,293.2 189.0,293.2 189.6,293.2 190.3,293.2 191.2,293.2 191.7,293.2 192.8,293.1 193.0,293.1 194.3,293.1 194.4,293.1 195.6,293.1 196.0,293.1 196.9,293.1 197.6,293.1 198.2,293.1 199.2,293.1 199.5,293.1 200.8,293.2 200.9,293.2 202.2,293.2 202.4,293.2 203.5,293.2 204.0,293.2 204.8,293.2 205.6,293.2 206.1,293.2 207.2,293.2 207.4,293.2 208.7,293.2 208.8,293.2 210.0,293.2 210.4,293.2 211.3,293.2 212.0,293.2 212.7,293.2 213.6,293.3 214.0,293.3 215.2,293.3 215.3,293.3 216.6,293.3 216.8,293.3 217.9,293.3 218.4,293.3 219.2,293.3 220.0,293.3 220.5,293.4 221.6,293.4 221.8,293.4 223.1,293.4 223.2,293.4 224.4,293.4 224.8,293.4 225.8,293.5 226.4,293.5 227.1,293.5 228.0,293.5 228.4,293.5 229.5,293.5 229.7,293.5 231.0,293.6 231.1,293.6 232.3,293.6 232.7,293.6 233.6,293.6 234.3,293.6 234.9,293.7 235.9,293.7 236.2,293.7 237.5,293.7 237.5,293.7 238.8,293.7 239.1,293.8 240.1,293.8 240.7,293.8 241.5,293.8 242.3,293.8 242.8,293.8 243.9,293.9 244.1,293.9 245.4,293.9 245.5,293.9 246.7,294.0 247.1,294.0 248.0,294.0 248.7,294.0 249.3,294.0 250.3,294.1 250.6,294.1 251.9,294.1 251.9,294.1 253.2,294.1 253.5,294.1 254.5,294.2 255.1,294.2 255.8,294.2 256.7,294.2 257.1,294.3 258.2,294.3 258.4,294.3 259.7,294.3 259.8,294.3 261.0,294.4 261.4,294.4 262.4,294.4 263.0,294.4 263.7,294.4 264.6,294.5 265.0,294.5 266.2,294.5 266.3,294.5 267.6,294.6 267.8,294.6 268.9,294.6 269.4,294.6 270.2,294.6 271.0,294.7 271.5,294.7 272.6,294.7 272.8,294.7 274.1,294.8 274.2,294.8 275.4,294.8 275.8,294.8 276.7,294.8 277.3,294.9 278.0,294.9 278.9,294.9 279.3,294.9 280.5,295.0 280.6,295.0 281.9,295.0 282.1,295.0 283.2,295.0 283.7,295.1 284.5,295.1 285.3,295.1 285.8,295.1 286.9,295.1 287.1,295.2 288.4,295.2 288.5,295.2 289.7,295.2 290.1,295.2 291.0,295.3 291.7,295.3 292.3,295.3 293.2,295.3 293.7,295.3 294.8,295.4 295.0,295.4 296.3,295.4 296.4,295.4 297.6,295.4 298.0,295.5 298.9,295.5 299.6,295.5 300.2,295.5 301.2,295.5 301.5,295.5 302.8,295.6 302.8,295.6 304.1,295.6 304.4,295.6 305.4,295.7 306.0,295.7 306.7,295.7 307.5,295.7 308.0,295.7 309.1,295.7 309.3,295.8 310.6,295.8 310.7,295.8 311.9,295.8 312.3,295.8 313.2,295.8 313.9,295.9 314.5,295.9 315.5,295.9 315.8,295.9 317.1,295.9 317.1,295.9 318.4,296.0 318.7,296.0 319.7,296.0 320.2,296.0 321.0,296.0 321.8,296.1 322.3,296.1 323.4,296.1 323.6,296.1 324.9,296.1 325.0,296.1 326.2,296.2 326.6,296.2 327.5,296.2 328.2,296.2 328.8,296.2 329.8,296.2 330.1,296.2 331.4,296.3 331.4,296.3 332.7,296.3 332.9,296.3 334.0,296.3 334.5,296.3 335.3,296.4 336.1,296.4 336.6,296.4 337.7,296.4 337.9,296.4 339.2,296.4 339.3,296.4 340.5,296.5 340.9,296.5 341.8,296.5 342.5,296.5 343.1,296.5 344.1,296.5 344.4,296.5 345.6,296.6 345.7,296.6 347.0,296.6 347.2,296.6 348.3,296.6 348.8,296.6 349.6,296.7 350.4,296.7 350.9,296.7 352.0,296.7 352.2,296.7 353.6,296.7 355.2,296.8 356.8,296.8 358.4,296.8 359.9,296.9 361.5,296.9 363.1,296.9 364.7,296.9 366.3,297.0 367.9,297.0 369.5,297.0 371.1,297.1 372.6,297.1 374.2,297.1 375.8,297.1 377.4,297.2 379.0,297.2 380.6,297.2 382.2,297.3 383.8,297.3 385.4,297.3 386.9,297.3 388.5,297.4 390.1,297.4 391.7,297.4 393.3,297.4 394.9,297.5 396.5,297.5 398.1,297.5 399.7,297.6 401.2,297.6 402.8,297.6 404.4,297.6 406.0,297.7 407.6,297.7 409.2,297.7 410.8,297.7 412.4,297.8 414.0,297.8 415.6,297.8 417.1,297.8 418.7,297.9 420.3,297.9 421.9,297.9 423.5,297.9 425.1,298.0 426.7,298.0 428.3,298.0 429.9,298.0 431.5,298.1 433.1,298.1 434.7,298.1 436.3,298.1 437.9,298.2 439.4,298.2 441.0,298.2 442.6,298.2 444.2,298.3 445.8,298.3 447.4,298.3 449.0,298.3 450.6,298.4 452.2,298.4 453.8,298.4 455.4,298.4 457.0,298.5 458.6,298.5 460.2,298.5 461.8,298.5 463.4,298.6 465.0,298.6 466.6,298.6 468.2,298.6 469.8,298.7 471.4,298.7 473.0,298.7 474.6,298.8 476.2,298.8 477.8,298.8 479.4,298.8 481.0,298.9 482.6,298.9 484.2,298.9 485.8,298.9 487.4,299.0 489.0,299.0 490.6,299.0 492.2,299.1 493.8,299.1 495.4,299.1 497.0,299.1 498.6,299.2 500.2,299.2 501.8,299.2 503.4,299.3 505.0,299.3" stroke="#333333" stroke-width="1.25" stroke-dasharray="7.2 2.5 1.8 2.5"/>
<path d="M103.6,333.0 103.7,331.8 103.8,331.3 103.8,330.5 103.9,329.6 104.0,329.3 104.1,328.0 104.1,327.9 104.2,326.7 104.3,326.1 104.3,325.5 104.4,324.4 104.5,324.2 104.6,322.9 104.6,322.6 104.7,321.6 104.8,320.8 104.9,320.3 105.0,319.1 105.0,319.0 105.2,317.7 105.2,317.3 105.3,316.4 105.5,315.5 105.5,315.1 105.7,313.8 105.7,313.7 105.8,312.5 105.9,311.9 106.0,311.2 106.2,310.1 106.2,309.9 106.4,308.6 106.4,308.3 106.6,307.3 106.7,306.5 106.7,305.9 106.9,304.7 106.9,304.6 107.1,303.3 107.2,302.9 107.4,302.0 107.5,301.1 107.6,300.7 107.8,299.3 107.8,299.3 108.0,298.0 108.1,297.4 108.2,296.7 108.4,295.6 108.5,295.4 108.7,294.1 108.8,293.8 109.0,292.7 109.1,292.0 109.3,291.4 109.5,290.2 109.5,290.1 109.8,288.8 109.9,288.5 110.2,287.5 110.4,286.7 110.5,286.3 110.8,285.0 110.8,284.9 111.2,283.7 111.3,283.2 111.5,282.5 111.8,281.5 111.9,281.2 112.3,280.0 112.4,279.8 112.8,278.7 113.0,278.1 113.2,277.5 113.6,276.4 113.7,276.3 114.2,275.1 114.3,274.8 114.7,273.9 115.0,273.2 115.2,272.8 115.8,271.6 115.8,271.6 116.4,270.5 116.6,270.1 117.0,269.4 117.5,268.6 117.6,268.3 118.3,267.2 118.4,267.1 119.0,266.1 119.3,265.6 119.7,265.1 120.4,264.2 120.5,264.0 121.2,263.0 121.4,262.8 122.0,262.0 122.5,261.4 122.9,261.0 123.7,260.1 123.7,260.1 124.6,259.1 124.9,258.8 125.5,258.2 126.2,257.6 126.4,257.3 127.4,256.4 127.5,256.3 128.4,255.6 128.8,255.2 129.4,254.7 130.3,254.0 130.4,253.9 131.5,253.1 131.7,252.9 132.6,252.3 133.2,251.9 133.7,251.6 134.7,250.9 134.8,250.8 135.9,250.1 136.3,249.9 137.1,249.4 137.9,249.0 138.2,248.8 139.4,248.2 139.5,248.1 140.6,247.5 141.1,247.3 141.8,247.0 142.7,246.5 143.0,246.4 144.2,245.9 144.4,245.8 145.4,245.3 146.0,245.1 146.6,244.9 147.7,244.4 147.8,244.4 149.0,244.0 149.4,243.8 150.2,243.6 151.0,243.3 151.5,243.2 152.7,242.8 152.7,242.8 153.9,242.4 154.4,242.3 155.2,242.1 156.1,241.9 156.4,241.8 157.7,241.5 157.8,241.4 158.9,241.2 159.6,241.1 160.2,240.9 161.3,240.7 161.4,240.7 162.7,240.5 163.0,240.4 163.9,240.2 164.7,240.1 165.2,240.0 166.5,239.8 166.5,239.8 167.7,239.7 168.2,239.6 169.0,239.5 170.0,239.4 170.3,239.3 171.6,239.2 171.7,239.1 172.9,239.0 173.5,238.9 174.1,238.9 175.2,238.8 175.4,238.7 176.7,238.6 177.0,238.6 178.0,238.5 178.8,238.4 179.3,238.4 180.6,238.3 180.6,238.3 181.9,238.2 182.3,238.1 183.2,238.1 184.1,238.0 184.5,238.0 185.8,237.9 185.9,237.9 187.1,237.8 187.7,237.8 188.4,237.8 189.5,237.7 189.7,237.7 191.0,237.7 191.3,237.6 192.3,237.6 193.1,237.6 193.7,237.6 194.9,237.5 195.0,237.5 196.3,237.5 196.7,237.5 197.6,237.4 198.5,237.4 198.9,237.4 200.2,237.4 200.3,237.4 201.5,237.4 202.1,237.4 202.9,237.3 203.9,237.3 204.2,237.3 205.5,237.3 205.7,237.3 206.8,237.3 207.5,237.3 208.1,237.3 209.4,237.3 209.5,237.3 210.8,237.3 211.2,237.3 212.1,237.3 213.0,237.3 213.4,237.3 214.7,237.3 214.8,237.3 216.1,237.3 216.6,237.3 217.4,237.3 218.4,237.3 218.7,237.3 220.0,237.3 220.2,237.3 221.3,237.3 222.0,237.3 222.7,237.3 223.8,237.3 224.0,237.3 225.3,237.3 225.6,237.3 226.6,237.3 227.5,237.3 227.9,237.3 229.2,237.4 229.3,237.4 230.6,237.4 231.1,237.4 231.9,237.4 232.9,237.4 233.2,237.4 234.5,237.4 234.7,237.4 235.8,237.4 236.5,237.4 237.1,237.4 238.3,237.5 238.5,237.5 239.8,237.5 240.1,237.5 241.1,237.5 241.9,237.5 242.4,237.5 243.7,237.5 243.7,237.5 245.0,237.6 245.5,237.6 246.3,237.6 247.3,237.6 247.7,237.6 249.0,237.6 249.1,237.6 250.3,237.7 250.9,237.7 251.6,237.7 252.7,237.7 252.9,237.7 254.2,237.7 254.5,237.7 255.5,237.8 256.3,237.8 256.8,237.8 258.1,237.8 258.1,237.8 259.5,237.8 259.9,237.8 260.8,237.9 261.7,237.9 262.1,237.9 263.4,237.9 263.5,237.9 264.7,238.0 265.3,238.0 266.0,238.0 267.1,238.0 267.3,238.0 268.6,238.1 268.9,238.1 269.9,238.1 270.6,238.1 271.2,238.1 272.4,238.2 272.5,238.2 273.8,238.2 274.2,238.2 275.2,238.2 276.0,238.3 276.5,238.3 277.8,238.3 277.8,238.3 279.1,238.3 279.6,238.4 280.4,238.4 281.4,238.4 281.7,238.4 283.0,238.5 283.2,238.5 284.3,238.5 285.0,238.5 285.6,238.5 286.8,238.6 286.9,238.6 288.2,238.6 288.6,238.6 289.5,238.7 290.3,238.7 290.8,238.7 292.1,238.8 292.1,238.8 293.4,238.8 293.9,238.8 294.7,238.8 295.7,238.9 296.0,238.9 297.3,238.9 297.5,238.9 298.6,239.0 299.3,239.0 299.9,239.0 301.1,239.1 301.3,239.1 302.9,239.1 304.7,239.2 306.4,239.3 308.2,239.3 310.0,239.4 311.8,239.5 313.6,239.5 315.4,239.6 317.2,239.7 318.9,239.7 320.7,239.8 322.5,239.9 324.3,240.0 326.1,240.0 327.9,240.1 329.6,240.2 331.4,240.3 333.2,240.3 335.0,240.4 336.8,240.5 338.6,240.6 340.3,240.6 342.1,240.7 343.9,240.8 345.7,240.9 347.5,241.0 349.3,241.0 351.0,241.1 352.8,241.2 354.6,241.3 356.4,241.4 358.2,241.4 359.9,241.5 361.7,241.6 363.5,241.7 365.3,241.8 367.1,241.9 368.9,241.9 370.6,242.0 372.4,242.1 374.2,242.2 376.0,242.3 377.8,242.3 379.6,242.4 381.3,242.5 383.1,242.6 384.9,242.7 386.7,242.8 388.5,242.8 390.3,242.9 392.0,243.0 393.8,243.1 395.6,243.2 397.4,243.3 399.2,243.3 401.0,243.4 402.7,243.5 404.5,243.6 406.3,243.7 408.1,243.7 409.9,243.8 411.7,243.9 413.4,244.0 415.2,244.1 417.0,244.1 418.8,244.2 420.6,244.3 422.4,244.4 424.2,244.5 425.9,244.5 427.7,244.6 429.5,244.7 431.3,244.8 433.1,244.8 434.9,244.9 436.7,245.0 438.5,245.1 440.3,245.1 442.0,245.2 443.8,245.3 445.6,245.3 447.4,245.4 449.2,245.5 451.0,245.6 452.8,245.6 454.6,245.7 456.4,245.8 458.2,245.8 460.0,245.9 461.8,245.9 463.6,246.0 465.4,246.1 467.2,246.1 469.0,246.2 470.7,246.3 472.5,246.3 474.3,246.4 476.1,246.4 477.9,246.5 479.7,246.5 481.5,246.6 483.3,246.7 485.1,246.7 486.9,246.8 488.7,246.8 490.6,246.9 492.4,246.9 494.2,246.9 496.0,247.0 497.8,247.0 499.6,247.1 501.4,247.1 503.2,247.2 505.0,247.2" stroke="#800000" stroke-width="1.55" stroke-dasharray="5.8 2.5 1.8 2.5 1.8 2.5"/>
</g>
<g fill="none" clip-path="url(#cb)" stroke-linecap="butt">
<path d="M103.5,862.1 103.8,855.6 104.0,851.1 104.3,847.4 104.5,844.2 104.8,841.3 105.0,838.6 105.3,836.2 105.5,834.0 105.8,831.9 106.0,829.9 106.3,828.1 106.5,826.3 106.8,824.7 107.0,823.1 107.3,821.6 107.5,820.2 107.8,818.9 108.0,817.6 108.3,816.3 108.5,815.1 108.8,814.0 109.0,812.9 109.3,811.9 109.5,810.9 109.8,809.9 110.0,808.9 110.3,808.0 110.5,807.2 110.8,806.3 111.0,805.5 111.3,804.7 111.5,803.9 111.8,803.2 112.0,802.5 112.3,801.8 112.5,801.1 112.8,800.5 113.0,799.8 113.3,799.2 113.5,798.6 113.8,798.1 114.0,797.5 114.3,797.0 114.5,796.4 114.8,795.9 115.0,795.4 115.3,794.9 115.5,794.5 115.8,794.0 116.0,793.6 116.3,793.1 116.5,792.7 116.8,792.3 117.0,791.9 117.3,791.5 117.5,791.1 117.8,790.7 118.0,790.4 118.3,790.0 118.5,789.7 118.8,789.4 119.0,789.0 119.3,788.7 119.5,788.4 119.8,788.1 120.1,787.8 120.3,787.5 120.6,787.2 120.8,787.0 121.1,786.7 121.3,786.5 121.6,786.2 121.8,786.0 122.1,785.7 122.3,785.5 122.6,785.2 122.8,785.0 123.1,784.8 123.3,784.6 123.6,784.4 123.8,784.2 124.1,784.0 124.3,783.8 124.6,783.6 124.8,783.4 125.1,783.2 125.3,783.1 125.6,782.9 125.8,782.7 126.1,782.6 126.3,782.4 126.6,782.3 126.8,782.1 127.1,782.0 127.3,781.8 127.6,781.7 127.8,781.5 128.1,781.4 128.3,781.3 128.6,781.2 128.8,781.0 129.1,780.9 129.3,780.8 129.6,780.7 129.8,780.6 130.1,780.5 130.3,780.4 130.6,780.3 130.8,780.2 131.1,780.1 131.3,780.0 131.6,779.9 131.8,779.8 132.1,779.7 132.3,779.6 132.6,779.5 132.8,779.4 133.1,779.4 133.3,779.3 133.6,779.2 133.8,779.1 134.1,779.1 134.3,779.0 134.6,778.9 134.8,778.9 135.1,778.8 135.3,778.7 135.6,778.7 135.8,778.6 136.1,778.6 136.3,778.5 136.6,778.5 136.9,778.4 137.1,778.4 137.4,778.3 137.6,778.3 137.9,778.2 138.1,778.2 138.4,778.1 138.6,778.1 138.9,778.1 139.1,778.0 139.4,778.0 139.6,778.0 139.9,777.9 140.1,777.9 140.4,777.9 140.6,777.8 140.9,777.8 141.1,777.8 141.4,777.8 141.6,777.7 141.9,777.7 142.1,777.7 142.4,777.7 142.6,777.7 142.9,777.6 143.1,777.6 143.4,777.6 143.6,777.6 143.9,777.6 144.1,777.6 144.4,777.5 144.6,777.5 144.9,777.5 145.1,777.5 145.4,777.5 145.6,777.5 145.9,777.5 146.1,777.5 146.4,777.5 146.6,777.5 146.9,777.5 147.1,777.5 147.4,777.5 147.6,777.5 147.9,777.5 148.1,777.5 148.4,777.5 148.6,777.5 148.9,777.5 149.1,777.5 149.4,777.5 149.6,777.5 149.9,777.5 150.1,777.5 150.4,777.5 150.6,777.5 150.9,777.5 151.1,777.5 151.4,777.5 151.6,777.5 151.9,777.5 152.1,777.5 152.4,777.6 152.6,777.6 152.9,777.6 153.2,777.6 153.4,777.6 153.7,777.6 153.9,777.6 154.2,777.6 154.4,777.7 154.7,777.7 154.9,777.7 155.2,777.7 155.4,777.7 155.7,777.7 155.9,777.8 156.2,777.8 156.4,777.8 156.7,777.8 156.9,777.8 157.2,777.8 157.4,777.9 157.7,777.9 157.9,777.9 158.2,777.9 158.4,778.0 158.7,778.0 158.9,778.0 159.2,778.0 159.4,778.0 159.7,778.1 159.9,778.1 160.2,778.1 160.4,778.1 160.7,778.2 160.9,778.2 161.2,778.2 161.4,778.2 161.7,778.3 161.9,778.3 162.2,778.3 162.4,778.3 162.7,778.4 162.9,778.4 163.2,778.4 163.4,778.5 163.7,778.5 163.9,778.5 164.2,778.5 164.4,778.6 164.7,778.6 164.9,778.6 165.2,778.7 165.4,778.7 165.7,778.7 165.9,778.7 167.6,779.0 169.3,779.2 171.0,779.4 172.8,779.6 174.5,779.9 176.2,780.1 177.9,780.4 179.6,780.6 181.3,780.9 183.0,781.2 184.7,781.4 186.4,781.7 188.1,782.0 189.8,782.3 191.5,782.5 193.2,782.8 194.9,783.1 196.6,783.4 198.3,783.7 200.0,783.9 201.7,784.2 203.4,784.5 205.1,784.8 206.8,785.1 208.5,785.4 210.2,785.6 211.9,785.9 213.6,786.2 215.3,786.5 217.0,786.7 218.7,787.0 220.4,787.3 222.1,787.6 223.9,787.8 225.6,788.1 227.3,788.4 229.0,788.6 230.7,788.9 232.4,789.2 234.1,789.4 235.8,789.7 237.5,790.0 239.2,790.2 240.9,790.5 242.6,790.7 244.3,791.0 246.0,791.2 247.7,791.5 249.4,791.7 251.1,792.0 252.8,792.2 254.5,792.5 256.2,792.7 257.9,793.0 259.6,793.2 261.3,793.4 263.0,793.7 264.7,793.9 266.4,794.1 268.1,794.4 269.8,794.6 271.5,794.8 273.2,795.1 275.0,795.3 276.7,795.5 278.4,795.7 280.1,796.0 281.8,796.2 283.5,796.4 285.2,796.6 286.9,796.8 288.6,797.0 290.3,797.2 292.0,797.5 293.7,797.7 295.4,797.9 297.1,798.1 298.8,798.3 300.5,798.5 302.2,798.7 303.9,798.9 305.6,799.1 307.3,799.3 309.0,799.5 310.7,799.7 312.4,799.9 314.1,800.1 315.8,800.3 317.5,800.4 319.2,800.6 320.9,800.8 322.6,801.0 324.3,801.2 326.1,801.4 327.8,801.5 329.5,801.7 331.2,801.9 332.9,802.1 334.6,802.3 336.3,802.4 338.0,802.6 339.7,802.8 341.4,803.0 343.1,803.1 344.8,803.3 346.5,803.5 348.2,803.6 349.9,803.8 351.6,804.0 353.3,804.1 355.0,804.3 356.7,804.5 358.4,804.6 360.1,804.8 361.8,804.9 363.5,805.1 365.2,805.3 366.9,805.4 368.6,805.6 370.3,805.7 372.0,805.9 373.7,806.0 375.4,806.2 377.2,806.3 378.9,806.5 380.6,806.6 382.3,806.8 384.0,806.9 385.7,807.1 387.4,807.2 389.1,807.4 390.8,807.5 392.5,807.6 394.2,807.8 395.9,807.9 397.6,808.1 399.3,808.2 401.0,808.3 402.7,808.5 404.4,808.6 406.1,808.7 407.8,808.9 409.5,809.0 411.2,809.1 412.9,809.3 414.6,809.4 416.3,809.5 418.0,809.7 419.7,809.8 421.4,809.9 423.1,810.1 424.8,810.2 426.5,810.3 428.3,810.4 430.0,810.6 431.7,810.7 433.4,810.8 435.1,810.9 436.8,811.0 438.5,811.2 440.2,811.3 441.9,811.4 443.6,811.5 445.3,811.6 447.0,811.8 448.7,811.9 450.4,812.0 452.1,812.1 453.8,812.2 455.5,812.3 457.2,812.5 458.9,812.6 460.6,812.7 462.3,812.8 464.0,812.9 465.7,813.0 467.4,813.1 469.1,813.2 470.8,813.4 472.5,813.5 474.2,813.6 475.9,813.7 477.6,813.8 479.4,813.9 481.1,814.0 482.8,814.1 484.5,814.2 486.2,814.3 487.9,814.4 489.6,814.5 491.3,814.6 493.0,814.7 494.7,814.8 496.4,814.9 498.1,815.0 499.8,815.1 501.5,815.2 503.2,815.3 504.9,815.4" stroke="#ff0000" stroke-width="1.6"/>
<path d="M103.6,862.1 103.6,860.8 103.6,860.1 103.6,859.5 103.6,858.1 103.6,858.1 103.6,856.8 103.6,856.1 103.6,855.5 103.7,854.2 103.7,854.1 103.7,852.9 103.7,852.1 103.7,851.5 103.8,850.2 103.8,850.2 103.8,848.9 103.9,848.2 103.9,847.6 104.0,846.3 104.0,846.2 104.0,844.9 104.1,844.2 104.1,843.6 104.2,842.3 104.2,842.2 104.3,841.0 104.4,840.2 104.4,839.7 104.5,838.4 104.5,838.3 104.6,837.1 104.7,836.3 104.8,835.8 104.9,834.5 104.9,834.3 105.0,833.2 105.1,832.4 105.2,831.9 105.3,830.6 105.4,830.4 105.5,829.3 105.6,828.4 105.7,828.0 105.9,826.7 105.9,826.5 106.1,825.4 106.2,824.5 106.3,824.1 106.5,822.8 106.5,822.6 106.7,821.5 106.8,820.6 106.9,820.2 107.1,818.9 107.2,818.7 107.4,817.6 107.6,816.8 107.6,816.4 107.9,815.1 108.0,814.9 108.2,813.8 108.4,812.9 108.5,812.5 108.7,811.3 108.8,811.0 109.0,810.0 109.3,809.1 109.4,808.7 109.7,807.5 109.7,807.2 110.0,806.2 110.2,805.3 110.3,805.0 110.7,803.7 110.8,803.4 111.1,802.5 111.3,801.6 111.4,801.2 111.8,800.0 111.9,799.7 112.2,798.7 112.5,797.8 112.6,797.5 113.0,796.3 113.1,796.0 113.4,795.0 113.7,794.1 113.8,793.8 114.3,792.6 114.4,792.3 114.7,791.4 115.1,790.4 115.2,790.2 115.6,789.0 115.8,788.6 116.1,787.7 116.5,786.8 116.6,786.5 117.1,785.3 117.3,785.0 117.6,784.2 118.0,783.2 118.1,783.0 118.7,781.8 118.8,781.4 119.2,780.6 119.7,779.6 119.7,779.4 120.3,778.2 120.5,777.8 120.9,777.1 121.4,776.1 121.5,775.9 122.0,774.7 122.2,774.3 122.6,773.6 123.2,772.6 123.2,772.4 123.9,771.3 124.1,770.9 124.5,770.1 125.0,769.2 125.1,769.0 125.8,767.9 126.0,767.4 126.4,766.8 127.0,765.8 127.1,765.6 127.8,764.5 128.0,764.1 128.4,763.4 129.1,762.4 129.1,762.3 129.8,761.2 130.1,760.7 130.5,760.1 131.2,759.1 131.3,759.0 132.0,757.9 132.3,757.5 132.7,756.8 133.4,755.8 133.5,755.8 134.2,754.7 134.6,754.2 135.0,753.6 135.7,752.6 135.8,752.6 136.5,751.5 136.9,751.1 137.3,750.5 138.1,749.5 138.1,749.5 138.9,748.4 139.3,747.9 139.7,747.4 140.5,746.4 140.6,746.4 141.4,745.4 141.8,744.9 142.2,744.4 143.1,743.4 143.1,743.4 143.9,742.4 144.3,741.9 144.8,741.4 145.6,740.4 145.7,740.4 146.5,739.4 147.0,738.9 147.4,738.5 148.3,737.5 148.3,737.5 149.2,736.5 149.7,736.0 150.1,735.6 151.0,734.7 151.0,734.6 151.9,733.7 152.4,733.2 152.8,732.8 153.8,731.9 153.8,731.8 154.7,731.0 155.2,730.5 155.7,730.1 156.6,729.2 156.7,729.1 157.6,728.3 158.1,727.8 158.5,727.4 159.5,726.5 159.6,726.5 160.5,725.7 161.1,725.2 161.5,724.8 162.5,724.0 162.6,723.9 163.5,723.1 164.1,722.6 164.5,722.3 165.5,721.5 165.6,721.4 166.5,720.6 167.1,720.1 167.5,719.8 168.6,719.0 168.7,718.9 169.6,718.2 170.3,717.7 170.6,717.4 171.7,716.7 171.8,716.6 172.7,715.9 173.4,715.4 173.8,715.1 174.8,714.4 175.0,714.3 175.9,713.6 176.6,713.2 177.0,712.9 178.1,712.2 178.3,712.1 179.2,711.5 179.9,711.0 180.2,710.8 181.3,710.1 181.6,709.9 182.4,709.4 183.2,708.9 183.5,708.7 184.6,708.0 184.9,707.9 185.8,707.3 186.6,706.9 186.9,706.7 188.0,706.0 188.3,705.9 189.1,705.4 190.0,704.9 190.3,704.8 191.4,704.1 191.7,704.0 192.5,703.5 193.4,703.1 193.7,702.9 194.8,702.3 195.1,702.2 196.0,701.7 196.9,701.3 197.2,701.1 198.3,700.5 198.6,700.4 199.5,700.0 200.4,699.5 200.7,699.4 201.8,698.9 202.2,698.7 203.0,698.3 204.0,697.9 204.2,697.8 205.4,697.2 205.7,697.1 206.6,696.7 207.5,696.3 207.8,696.2 209.0,695.7 209.3,695.5 210.2,695.1 211.2,694.7 211.4,694.6 212.6,694.1 213.0,694.0 213.8,693.7 214.8,693.2 215.0,693.2 216.2,692.7 216.6,692.5 217.4,692.2 218.5,691.8 218.6,691.8 219.9,691.3 220.3,691.1 221.1,690.8 222.2,690.5 222.3,690.4 223.6,690.0 224.0,689.8 224.8,689.5 225.9,689.1 226.0,689.1 227.3,688.7 227.8,688.5 228.5,688.3 229.6,687.9 229.8,687.8 231.0,687.4 231.5,687.3 232.3,687.0 233.4,686.7 233.5,686.6 234.8,686.3 235.3,686.1 236.0,685.9 237.2,685.5 237.3,685.5 238.5,685.1 239.1,684.9 239.8,684.7 241.0,684.4 241.1,684.4 242.3,684.0 242.9,683.9 243.6,683.7 244.8,683.3 244.9,683.3 246.1,683.0 246.7,682.8 247.4,682.6 248.6,682.3 248.7,682.3 249.9,682.0 250.6,681.8 251.2,681.6 252.5,681.3 252.5,681.3 253.8,681.0 254.4,680.8 255.1,680.7 256.3,680.3 256.3,680.3 258.3,679.9 260.2,679.4 262.1,679.0 264.1,678.5 266.0,678.1 267.9,677.7 269.9,677.3 271.8,676.9 273.7,676.5 275.7,676.1 277.6,675.7 279.6,675.3 281.5,674.9 283.4,674.6 285.4,674.2 287.3,673.9 289.3,673.5 291.2,673.2 293.1,672.8 295.1,672.5 297.0,672.2 299.0,671.9 300.9,671.6 302.9,671.3 304.8,671.0 306.8,670.7 308.7,670.4 310.7,670.1 312.6,669.8 314.5,669.6 316.5,669.3 318.4,669.1 320.4,668.8 322.3,668.6 324.3,668.3 326.2,668.1 328.2,667.9 330.1,667.6 332.1,667.4 334.1,667.2 336.0,667.0 338.0,666.8 339.9,666.6 341.9,666.4 343.8,666.2 345.8,666.0 347.7,665.8 349.7,665.6 351.6,665.4 353.6,665.3 355.6,665.1 357.5,664.9 359.5,664.8 361.4,664.6 363.4,664.4 365.3,664.3 367.3,664.1 369.3,664.0 371.2,663.9 373.2,663.7 375.1,663.6 377.1,663.4 379.1,663.3 381.0,663.2 383.0,663.1 385.0,662.9 386.9,662.8 388.9,662.7 390.8,662.6 392.8,662.5 394.8,662.3 396.7,662.2 398.7,662.1 400.7,662.0 402.6,661.9 404.6,661.8 406.6,661.7 408.5,661.6 410.5,661.5 412.5,661.4 414.4,661.3 416.4,661.2 418.4,661.1 420.3,661.0 422.3,660.9 424.3,660.9 426.2,660.8 428.2,660.7 430.2,660.6 432.1,660.5 434.1,660.4 436.1,660.3 438.0,660.2 440.0,660.1 442.0,660.1 443.9,660.0 445.9,659.9 447.9,659.8 449.8,659.7 451.8,659.6 453.8,659.5 455.7,659.4 457.7,659.3 459.7,659.3 461.7,659.2 463.6,659.1 465.6,659.0 467.6,658.9 469.5,658.8 471.5,658.7 473.5,658.6 475.4,658.5 477.4,658.4 479.4,658.3 481.4,658.2 483.3,658.1 485.3,658.0 487.3,657.9 489.2,657.8 491.2,657.7 493.2,657.5 495.1,657.4 497.1,657.3 499.1,657.2 501.1,657.1 503.0,656.9 505.0,656.8" stroke="#0000ff" stroke-width="1.7" stroke-dasharray="5.3 4.8"/>
<path d="M103.6,862.1 103.6,860.8 103.7,859.9 103.7,859.4 103.7,858.1 103.7,857.6 103.8,856.8 103.8,855.5 103.8,855.4 103.9,854.1 103.9,853.2 103.9,852.8 104.0,851.5 104.0,850.9 104.1,850.2 104.1,848.9 104.1,848.7 104.2,847.6 104.3,846.5 104.3,846.3 104.4,844.9 104.4,844.3 104.4,843.6 104.5,842.3 104.5,842.1 104.6,841.0 104.7,839.9 104.7,839.7 104.8,838.4 104.9,837.7 104.9,837.1 105.0,835.8 105.0,835.5 105.1,834.5 105.2,833.3 105.2,833.2 105.3,831.9 105.4,831.1 105.5,830.6 105.6,829.3 105.6,828.9 105.7,828.0 105.8,826.7 105.8,826.7 106.0,825.4 106.1,824.5 106.1,824.1 106.2,822.9 106.3,822.3 106.4,821.6 106.5,820.3 106.5,820.1 106.7,819.0 106.8,818.0 106.8,817.7 107.0,816.4 107.1,815.8 107.1,815.1 107.3,813.8 107.3,813.6 107.5,812.5 107.6,811.4 107.6,811.3 107.8,810.0 107.9,809.3 108.0,808.7 108.1,807.4 108.2,807.1 108.3,806.1 108.5,804.9 108.5,804.8 108.7,803.6 108.8,802.8 108.9,802.3 109.1,801.0 109.1,800.6 109.3,799.7 109.5,798.4 109.5,798.4 109.7,797.1 109.8,796.3 109.9,795.9 110.1,794.6 110.2,794.1 110.3,793.3 110.5,792.0 110.5,792.0 110.7,790.7 110.9,789.8 111.0,789.5 111.2,788.2 111.3,787.6 111.4,786.9 111.6,785.6 111.7,785.5 111.9,784.3 112.0,783.3 112.1,783.1 112.3,781.8 112.4,781.1 112.6,780.5 112.8,779.2 112.8,779.0 113.0,777.9 113.2,776.8 113.3,776.7 113.5,775.4 113.7,774.6 113.8,774.1 114.0,772.8 114.1,772.5 114.2,771.5 114.5,770.3 114.5,770.2 114.7,769.0 114.9,768.1 115.0,767.7 115.2,766.4 115.3,766.0 115.5,765.1 115.7,763.8 115.7,763.8 116.0,762.5 116.2,761.6 116.2,761.2 116.5,759.9 116.6,759.4 116.7,758.7 117.0,757.4 117.0,757.3 117.2,756.1 117.4,755.1 117.5,754.8 117.7,753.5 117.8,752.9 118.0,752.2 118.2,750.9 118.3,750.7 118.5,749.6 118.7,748.5 118.7,748.3 119.0,747.0 119.1,746.3 119.2,745.7 119.5,744.4 119.6,744.2 119.8,743.1 120.0,742.0 120.0,741.9 120.3,740.6 120.4,739.8 120.5,739.3 120.8,738.0 120.9,737.6 121.1,736.7 121.3,735.4 121.3,735.4 121.6,734.1 121.8,733.2 121.9,732.8 122.2,731.5 122.3,731.1 122.5,730.2 122.8,729.0 122.8,728.9 123.0,727.7 123.3,726.7 123.3,726.4 123.7,725.1 123.8,724.6 124.0,723.8 124.3,722.6 124.3,722.4 124.6,721.3 124.9,720.3 124.9,720.0 125.2,718.8 125.4,718.1 125.6,717.5 125.9,716.2 126.0,716.0 126.3,715.0 126.6,713.9 126.6,713.7 127.0,712.5 127.2,711.8 127.4,711.2 127.8,710.0 127.8,709.7 128.1,708.7 128.5,707.6 128.5,707.5 128.9,706.2 129.2,705.5 129.3,705.0 129.8,703.8 129.9,703.4 130.2,702.5 130.6,701.3 130.6,701.3 131.1,700.1 131.4,699.3 131.5,698.9 132.0,697.7 132.2,697.2 132.5,696.5 132.9,695.3 133.0,695.2 133.4,694.1 133.8,693.2 133.9,692.9 134.5,691.7 134.7,691.2 135.0,690.5 135.5,689.3 135.6,689.2 136.1,688.2 136.5,687.2 136.6,687.0 137.2,685.9 137.5,685.2 137.8,684.7 138.4,683.5 138.5,683.3 139.0,682.4 139.6,681.4 139.6,681.3 140.3,680.1 140.6,679.5 140.9,679.0 141.6,677.9 141.8,677.6 142.2,676.8 142.9,675.7 142.9,675.7 143.6,674.6 144.1,673.9 144.3,673.5 145.1,672.4 145.3,672.0 145.8,671.3 146.6,670.2 146.6,670.2 147.4,669.2 147.9,668.4 148.1,668.1 148.9,667.1 149.3,666.6 149.8,666.0 150.6,665.0 150.7,664.9 151.4,664.0 152.1,663.2 152.3,663.0 153.2,662.0 153.6,661.5 154.0,661.0 154.9,660.0 155.1,659.9 155.8,659.1 156.6,658.2 156.7,658.1 157.7,657.2 158.2,656.6 158.6,656.2 159.6,655.3 159.8,655.1 160.5,654.4 161.4,653.6 161.5,653.5 162.5,652.6 163.1,652.1 163.5,651.8 164.5,650.9 164.8,650.7 165.5,650.1 166.5,649.3 166.5,649.3 167.5,648.5 168.3,648.0 168.6,647.7 169.6,646.9 170.0,646.7 170.7,646.2 171.8,645.4 171.9,645.4 172.9,644.7 173.7,644.2 174.0,644.0 175.1,643.3 175.5,643.0 176.2,642.6 177.3,642.0 177.4,641.9 178.4,641.3 179.3,640.8 179.5,640.7 180.7,640.1 181.3,639.8 181.8,639.5 183.0,638.9 183.2,638.8 184.1,638.3 185.2,637.8 185.3,637.8 186.5,637.2 187.1,636.9 187.6,636.7 188.8,636.2 189.2,636.1 190.0,635.7 191.2,635.2 191.2,635.2 192.4,634.7 193.2,634.4 193.6,634.3 194.9,633.8 195.3,633.7 197.3,633.0 199.4,632.3 201.5,631.6 203.6,631.0 205.7,630.4 207.9,629.8 210.0,629.3 212.1,628.7 214.3,628.3 216.4,627.8 218.6,627.3 220.8,626.9 222.9,626.5 225.1,626.1 227.3,625.7 229.5,625.3 231.7,624.9 233.8,624.6 236.0,624.3 238.2,623.9 240.4,623.6 242.6,623.3 244.7,623.1 246.9,622.8 249.1,622.5 251.3,622.3 253.5,622.0 255.7,621.8 257.9,621.6 260.1,621.4 262.3,621.2 264.5,621.0 266.6,620.8 268.8,620.6 271.0,620.4 273.2,620.3 275.4,620.1 277.6,619.9 279.8,619.8 282.0,619.7 284.2,619.5 286.4,619.4 288.6,619.3 290.8,619.2 293.0,619.1 295.3,619.0 297.5,618.9 299.7,618.8 301.9,618.7 304.1,618.6 306.3,618.5 308.5,618.4 310.7,618.3 312.9,618.2 315.1,618.1 317.3,618.1 319.5,618.0 321.7,617.9 324.0,617.8 326.2,617.8 328.4,617.7 330.6,617.6 332.8,617.5 335.0,617.5 337.2,617.4 339.4,617.4 341.7,617.3 343.9,617.2 346.1,617.2 348.3,617.1 350.5,617.1 352.7,617.0 354.9,617.0 357.2,616.9 359.4,616.9 361.6,616.8 363.8,616.8 366.0,616.7 368.2,616.7 370.5,616.6 372.7,616.6 374.9,616.6 377.1,616.5 379.3,616.5 381.5,616.5 383.7,616.4 386.0,616.4 388.2,616.3 390.4,616.3 392.6,616.3 394.8,616.3 397.0,616.2 399.3,616.2 401.5,616.2 403.7,616.1 405.9,616.1 408.1,616.1 410.3,616.1 412.5,616.0 414.8,616.0 417.0,616.0 419.2,616.0 421.4,616.0 423.6,615.9 425.8,615.9 428.0,615.9 430.2,615.9 432.4,615.9 434.7,615.8 436.9,615.8 439.1,615.8 441.3,615.8 443.5,615.8 445.7,615.8 447.9,615.7 450.1,615.7 452.3,615.7 454.5,615.7 456.7,615.7 458.9,615.7 461.1,615.6 463.3,615.6 465.5,615.6 467.7,615.6 469.9,615.6 472.1,615.6 474.3,615.6 476.5,615.5 478.7,615.5 480.9,615.5 483.1,615.5 485.3,615.5 487.5,615.5 489.7,615.4 491.9,615.4 494.1,615.4 496.3,615.4 498.4,615.4 500.6,615.3 502.8,615.3 505.0,615.3" stroke="#008080" stroke-width="1.35" stroke-dasharray="2.9 1.8"/>
<path d="M103.6,862.1 103.6,860.8 103.7,859.7 103.7,859.5 103.7,858.1 103.8,857.3 103.8,856.8 103.8,855.5 103.9,854.8 103.9,854.2 104.0,852.8 104.0,852.4 104.0,851.5 104.1,850.2 104.1,850.0 104.1,848.9 104.2,847.6 104.2,847.6 104.3,846.3 104.3,845.2 104.3,845.0 104.4,843.6 104.5,842.8 104.5,842.3 104.6,841.0 104.6,840.4 104.6,839.7 104.7,838.4 104.7,838.0 104.8,837.1 104.9,835.8 104.9,835.7 105.0,834.5 105.0,833.3 105.0,833.2 105.1,831.9 105.2,830.9 105.2,830.6 105.3,829.3 105.4,828.5 105.4,828.0 105.5,826.7 105.6,826.1 105.6,825.4 105.7,824.1 105.7,823.8 105.8,822.8 105.9,821.5 105.9,821.4 106.0,820.2 106.1,819.0 106.1,818.9 106.2,817.6 106.3,816.6 106.3,816.3 106.5,815.0 106.5,814.3 106.6,813.7 106.7,812.4 106.7,811.9 106.8,811.1 106.9,809.8 107.0,809.5 107.0,808.5 107.2,807.3 107.2,807.2 107.3,806.0 107.4,804.8 107.4,804.7 107.5,803.4 107.6,802.5 107.7,802.1 107.8,800.8 107.9,800.1 107.9,799.5 108.1,798.2 108.1,797.7 108.2,796.9 108.3,795.6 108.4,795.4 108.5,794.4 108.6,793.1 108.6,793.0 108.8,791.8 108.9,790.7 108.9,790.5 109.0,789.2 109.1,788.3 109.2,787.9 109.3,786.6 109.4,786.0 109.5,785.3 109.6,784.0 109.7,783.6 109.8,782.8 109.9,781.5 110.0,781.2 110.1,780.2 110.2,778.9 110.2,778.9 110.4,777.6 110.5,776.5 110.6,776.3 110.7,775.0 110.8,774.2 110.9,773.7 111.0,772.4 111.1,771.8 111.2,771.1 111.4,769.9 111.4,769.4 111.5,768.6 111.7,767.3 111.7,767.1 111.9,766.0 112.0,764.7 112.0,764.7 112.2,763.4 112.3,762.4 112.4,762.1 112.5,760.8 112.6,760.0 112.7,759.5 112.9,758.2 113.0,757.6 113.1,756.9 113.2,755.6 113.3,755.3 113.4,754.3 113.6,753.0 113.6,752.9 113.8,751.7 113.9,750.5 113.9,750.5 114.1,749.2 114.3,748.1 114.3,747.9 114.5,746.6 114.6,745.8 114.7,745.3 114.9,744.0 114.9,743.4 115.0,742.7 115.2,741.4 115.3,741.0 115.4,740.1 115.6,738.7 115.6,738.6 115.8,737.4 116.0,736.2 116.0,736.1 116.2,734.8 116.3,733.9 116.4,733.5 116.6,732.2 116.7,731.5 116.8,730.9 116.9,729.6 117.0,729.1 117.1,728.3 117.3,727.0 117.4,726.7 117.5,725.7 117.7,724.4 117.8,724.3 117.9,723.1 118.1,721.9 118.1,721.8 118.4,720.5 118.5,719.5 118.6,719.2 118.8,717.9 118.9,717.2 119.0,716.6 119.2,715.3 119.3,714.8 119.4,714.0 119.6,712.7 119.7,712.4 119.8,711.3 120.0,710.0 120.1,710.0 120.3,708.7 120.5,707.6 120.5,707.4 120.7,706.1 120.9,705.2 120.9,704.8 121.2,703.5 121.3,702.9 121.4,702.2 121.6,701.0 121.7,700.5 121.9,699.7 122.1,698.4 122.1,698.1 122.3,697.1 122.6,695.8 122.6,695.8 122.8,694.5 123.0,693.4 123.0,693.2 123.3,691.9 123.4,691.1 123.5,690.6 123.8,689.3 123.9,688.7 124.0,688.1 124.3,686.8 124.4,686.4 124.5,685.5 124.8,684.2 124.8,684.0 125.1,682.9 125.3,681.7 125.3,681.7 125.6,680.4 125.8,679.4 125.9,679.1 126.1,677.9 126.3,677.0 126.4,676.6 126.7,675.3 126.8,674.7 127.0,674.1 127.3,672.8 127.4,672.4 127.6,671.5 127.9,670.3 127.9,670.1 128.2,669.0 128.5,667.8 128.5,667.8 128.8,666.5 129.1,665.6 129.1,665.3 129.5,664.0 129.7,663.3 129.8,662.8 130.2,661.6 130.3,661.0 130.5,660.3 130.9,659.1 131.0,658.8 131.3,657.9 131.7,656.6 131.7,656.5 132.0,655.4 132.4,654.3 132.4,654.2 132.9,653.0 133.2,652.1 133.3,651.8 133.7,650.6 134.0,649.9 134.1,649.3 134.6,648.1 134.8,647.6 135.1,646.9 135.5,645.7 135.6,645.5 136.0,644.5 136.5,643.4 136.5,643.3 137.0,642.2 137.5,641.1 137.5,641.0 138.1,639.8 138.5,639.0 138.6,638.6 139.2,637.5 139.5,636.8 139.8,636.3 140.3,635.1 140.6,634.7 140.9,634.0 141.6,632.8 141.7,632.6 142.2,631.7 142.8,630.5 142.8,630.5 143.5,629.4 144.1,628.4 144.2,628.2 144.8,627.1 145.3,626.3 145.5,626.0 146.3,624.8 146.6,624.3 147.0,623.7 147.7,622.6 148.0,622.2 148.5,621.5 149.3,620.4 149.4,620.2 150.0,619.3 150.8,618.3 150.8,618.3 151.6,617.2 152.3,616.3 152.5,616.1 153.3,615.1 153.9,614.4 154.1,614.1 155.0,613.0 155.4,612.5 155.9,612.0 156.7,611.0 157.0,610.7 158.7,608.9 160.4,607.1 162.1,605.4 163.9,603.8 165.6,602.2 167.5,600.6 169.3,599.1 171.2,597.7 173.1,596.3 175.1,595.0 177.1,593.7 179.1,592.5 181.1,591.3 183.2,590.2 185.2,589.1 187.3,588.1 189.5,587.1 191.6,586.2 193.8,585.3 195.9,584.4 198.1,583.6 200.4,582.8 202.6,582.1 204.8,581.4 207.1,580.7 209.4,580.0 211.7,579.4 214.0,578.8 216.3,578.3 218.6,577.7 220.9,577.2 223.2,576.7 225.6,576.3 227.9,575.8 230.2,575.4 232.6,575.0 235.0,574.6 237.3,574.2 239.7,573.9 242.1,573.6 244.5,573.2 246.9,572.9 249.2,572.7 251.6,572.4 254.0,572.1 256.4,571.9 258.8,571.7 261.3,571.5 263.7,571.3 266.1,571.1 268.5,570.9 270.9,570.7 273.3,570.5 275.7,570.4 278.1,570.2 280.5,570.1 283.0,569.9 285.4,569.8 287.8,569.7 290.2,569.5 292.6,569.4 295.0,569.3 297.4,569.2 299.8,569.0 302.2,568.9 304.6,568.8 307.0,568.7 309.4,568.6 311.8,568.5 314.2,568.4 316.6,568.3 318.9,568.2 321.3,568.1 323.7,568.0 326.1,567.9 328.5,567.8 330.9,567.8 333.2,567.7 335.6,567.6 338.0,567.5 340.4,567.4 342.8,567.4 345.1,567.3 347.5,567.2 349.9,567.2 352.3,567.1 354.6,567.1 357.0,567.0 359.4,566.9 361.8,566.9 364.1,566.8 366.5,566.8 368.9,566.7 371.3,566.7 373.6,566.6 376.0,566.6 378.4,566.6 380.7,566.5 383.1,566.5 385.5,566.4 387.9,566.4 390.2,566.4 392.6,566.3 395.0,566.3 397.3,566.3 399.7,566.3 402.1,566.2 404.4,566.2 406.8,566.2 409.2,566.2 411.6,566.1 413.9,566.1 416.3,566.1 418.7,566.1 421.1,566.0 423.4,566.0 425.8,566.0 428.2,566.0 430.6,566.0 433.0,566.0 435.3,566.0 437.7,565.9 440.1,565.9 442.5,565.9 444.9,565.9 447.3,565.9 449.6,565.9 452.0,565.9 454.4,565.9 456.8,565.9 459.2,565.9 461.6,565.8 464.0,565.8 466.4,565.8 468.8,565.8 471.2,565.8 473.6,565.8 476.0,565.8 478.4,565.8 480.8,565.8 483.2,565.8 485.6,565.8 488.0,565.8 490.5,565.8 492.9,565.7 495.3,565.7 497.7,565.7 500.1,565.7 502.6,565.7 505.0,565.7" stroke="#800000" stroke-width="1.35" stroke-dasharray="6.4 2.4 1.6 2.4"/>
</g>
<line x1="102.65" y1="235.90" x2="505.95" y2="235.90" stroke="#2e2e2e" stroke-width="1.8"/>
<line x1="505.10" y1="235.90" x2="505.10" y2="560.70" stroke="#2e2e2e" stroke-width="1.7"/>
<line x1="102.65" y1="559.85" x2="505.50" y2="559.85" stroke="#902090" stroke-width="1.7"/>
<line x1="103.50" y1="235.90" x2="103.50" y2="560.70" stroke="#008000" stroke-width="1.7"/>
<line x1="102.65" y1="563.55" x2="505.25" y2="563.55" stroke="#000" stroke-width="1.15"/>
<line x1="504.70" y1="563.70" x2="504.70" y2="862.70" stroke="#000" stroke-width="1.1"/>
<line x1="102.65" y1="862.70" x2="505.25" y2="862.70" stroke="#902090" stroke-width="1.6"/>
<line x1="103.50" y1="563.70" x2="103.50" y2="863.50" stroke="#008000" stroke-width="1.7"/>
<line x1="103.50" y1="545.93" x2="107.20" y2="545.93" stroke="#008000" stroke-width="1.25"/>
<line x1="103.50" y1="524.54" x2="110.00" y2="524.54" stroke="#008000" stroke-width="1.25"/>
<text x="96.4" y="529.44" font-size="17.2" fill="#008000" text-anchor="end">4.0</text>
<line x1="103.50" y1="503.15" x2="107.20" y2="503.15" stroke="#008000" stroke-width="1.25"/>
<line x1="103.50" y1="481.76" x2="110.00" y2="481.76" stroke="#008000" stroke-width="1.25"/>
<text x="96.4" y="486.66" font-size="17.2" fill="#008000" text-anchor="end">4.4</text>
<line x1="103.50" y1="460.38" x2="107.20" y2="460.38" stroke="#008000" stroke-width="1.25"/>
<line x1="103.50" y1="438.99" x2="110.00" y2="438.99" stroke="#008000" stroke-width="1.25"/>
<text x="96.4" y="443.89" font-size="17.2" fill="#008000" text-anchor="end">4.8</text>
<line x1="103.50" y1="417.60" x2="107.20" y2="417.60" stroke="#008000" stroke-width="1.25"/>
<line x1="103.50" y1="396.21" x2="110.00" y2="396.21" stroke="#008000" stroke-width="1.25"/>
<text x="96.4" y="401.11" font-size="17.2" fill="#008000" text-anchor="end">5.2</text>
<line x1="103.50" y1="374.82" x2="107.20" y2="374.82" stroke="#008000" stroke-width="1.25"/>
<line x1="103.50" y1="353.44" x2="110.00" y2="353.44" stroke="#008000" stroke-width="1.25"/>
<text x="96.4" y="358.34" font-size="17.2" fill="#008000" text-anchor="end">5.6</text>
<line x1="103.50" y1="332.05" x2="107.20" y2="332.05" stroke="#008000" stroke-width="1.25"/>
<line x1="103.50" y1="310.66" x2="110.00" y2="310.66" stroke="#008000" stroke-width="1.25"/>
<text x="96.4" y="315.56" font-size="17.2" fill="#008000" text-anchor="end">6.0</text>
<line x1="103.50" y1="289.27" x2="107.20" y2="289.27" stroke="#008000" stroke-width="1.25"/>
<line x1="103.50" y1="267.88" x2="110.00" y2="267.88" stroke="#008000" stroke-width="1.25"/>
<text x="96.4" y="272.78" font-size="17.2" fill="#008000" text-anchor="end">6.4</text>
<line x1="103.50" y1="246.50" x2="107.20" y2="246.50" stroke="#008000" stroke-width="1.25"/>
<line x1="103.50" y1="845.00" x2="107.20" y2="845.00" stroke="#008000" stroke-width="1.25"/>
<line x1="103.50" y1="817.40" x2="110.00" y2="817.40" stroke="#008000" stroke-width="1.25"/>
<text x="97.4" y="824.10" font-size="16.0" fill="#008000" text-anchor="end">4.0</text>
<line x1="103.50" y1="789.80" x2="107.20" y2="789.80" stroke="#008000" stroke-width="1.25"/>
<line x1="103.50" y1="762.20" x2="110.00" y2="762.20" stroke="#008000" stroke-width="1.25"/>
<text x="97.4" y="768.90" font-size="16.0" fill="#008000" text-anchor="end">4.4</text>
<line x1="103.50" y1="734.60" x2="107.20" y2="734.60" stroke="#008000" stroke-width="1.25"/>
<line x1="103.50" y1="707.00" x2="110.00" y2="707.00" stroke="#008000" stroke-width="1.25"/>
<text x="97.4" y="713.70" font-size="16.0" fill="#008000" text-anchor="end">4.8</text>
<line x1="103.50" y1="679.40" x2="107.20" y2="679.40" stroke="#008000" stroke-width="1.25"/>
<line x1="103.50" y1="651.80" x2="110.00" y2="651.80" stroke="#008000" stroke-width="1.25"/>
<text x="97.4" y="658.50" font-size="16.0" fill="#008000" text-anchor="end">5.2</text>
<line x1="103.50" y1="624.20" x2="107.20" y2="624.20" stroke="#008000" stroke-width="1.25"/>
<line x1="103.50" y1="596.60" x2="110.00" y2="596.60" stroke="#008000" stroke-width="1.25"/>
<text x="97.4" y="603.30" font-size="16.0" fill="#008000" text-anchor="end">5.6</text>
<line x1="103.50" y1="569.00" x2="107.20" y2="569.00" stroke="#008000" stroke-width="1.25"/>
<line x1="148.10" y1="559.85" x2="148.10" y2="553.25" stroke="#800080" stroke-width="1.25"/>
<line x1="148.10" y1="862.70" x2="148.10" y2="856.10" stroke="#800080" stroke-width="1.25"/>
<text x="148.10" y="880.8" font-size="14" fill="#800080" text-anchor="middle">1</text>
<line x1="192.70" y1="559.85" x2="192.70" y2="556.35" stroke="#800080" stroke-width="1.25"/>
<line x1="192.70" y1="862.70" x2="192.70" y2="859.20" stroke="#800080" stroke-width="1.25"/>
<line x1="237.30" y1="559.85" x2="237.30" y2="553.25" stroke="#800080" stroke-width="1.25"/>
<line x1="237.30" y1="862.70" x2="237.30" y2="856.10" stroke="#800080" stroke-width="1.25"/>
<text x="237.30" y="880.8" font-size="14" fill="#800080" text-anchor="middle">2</text>
<line x1="281.90" y1="559.85" x2="281.90" y2="556.35" stroke="#800080" stroke-width="1.25"/>
<line x1="281.90" y1="862.70" x2="281.90" y2="859.20" stroke="#800080" stroke-width="1.25"/>
<line x1="326.50" y1="559.85" x2="326.50" y2="553.25" stroke="#800080" stroke-width="1.25"/>
<line x1="326.50" y1="862.70" x2="326.50" y2="856.10" stroke="#800080" stroke-width="1.25"/>
<text x="326.50" y="880.8" font-size="14" fill="#800080" text-anchor="middle">3</text>
<line x1="371.10" y1="559.85" x2="371.10" y2="556.35" stroke="#800080" stroke-width="1.25"/>
<line x1="371.10" y1="862.70" x2="371.10" y2="859.20" stroke="#800080" stroke-width="1.25"/>
<line x1="415.70" y1="559.85" x2="415.70" y2="553.25" stroke="#800080" stroke-width="1.25"/>
<line x1="415.70" y1="862.70" x2="415.70" y2="856.10" stroke="#800080" stroke-width="1.25"/>
<text x="415.70" y="880.8" font-size="14" fill="#800080" text-anchor="middle">4</text>
<line x1="460.30" y1="559.85" x2="460.30" y2="556.35" stroke="#800080" stroke-width="1.25"/>
<line x1="460.30" y1="862.70" x2="460.30" y2="859.20" stroke="#800080" stroke-width="1.25"/>
<text x="504.90" y="880.8" font-size="14" fill="#800080" text-anchor="middle">5</text>
<text transform="translate(282.88,900.17) scale(0.5568,0.4445)"  class="s" font-size="100" fill="#800080">α</text>
<g transform="rotate(-90)" fill="#008000">
<text transform="translate(-699.64,46.40) scale(0.6754,0.5926)"  class="i" font-size="100" stroke="#fff" stroke-width="0.95">R</text>
<text transform="translate(-659.37,66.03) scale(0.2436,0.2522)"  class="s" font-size="100">ρ</text>
<text transform="translate(-645.13,46.03) scale(0.5295,0.4588)"  class="s" font-size="100">(</text>
<text transform="translate(-629.37,46.15) scale(0.5697,0.4611)"  class="s" font-size="100">α</text>
<text transform="translate(-600.88,46.03) scale(0.4906,0.4588)"  class="s" font-size="100">)</text>
<text transform="translate(-582.79,43.48) scale(0.4746,0.4687)"  class="b" font-size="100">+</text>
<text transform="translate(-551.85,46.40) scale(0.6604,0.5926)"  class="i" font-size="100" stroke="#fff" stroke-width="0.96">R</text>
<text transform="translate(-512.16,65.47) scale(0.2593,0.2783)"  class="s" font-size="100">γ</text>
<text transform="translate(-501.18,46.34) scale(0.5178,0.4632)"  class="s" font-size="100">(</text>
<text transform="translate(-486.60,46.26) scale(0.5276,0.4667)"  class="s" font-size="100">β</text>
<text transform="translate(-461.17,46.34) scale(0.5178,0.4632)"  class="s" font-size="100">)</text>
</g>
<g fill="#000">
<text transform="translate(119.49,538.74) scale(0.2297,0.2658)"  class="s" font-size="100">(</text>
<text transform="translate(127.68,538.85) scale(0.3745,0.3368)"  class="i" font-size="100" stroke="#fff" stroke-width="1.04">a</text>
<text transform="translate(146.81,538.74) scale(0.2453,0.2658)"  class="s" font-size="100">)</text>
<text transform="translate(117.88,597.19) scale(0.2103,0.2448)"  class="s" font-size="100">(</text>
<text transform="translate(125.35,597.28) scale(0.2820,0.3255)"  class="i" font-size="100" stroke="#fff" stroke-width="1.18">b</text>
<text transform="translate(139.27,597.19) scale(0.2258,0.2448)"  class="s" font-size="100">)</text>
</g>
<g fill="#008080">
<text transform="translate(164.00,428.31) scale(0.3275,0.3000)"  class="s" font-size="100">ϕ</text>
<text x="179.50" y="441.00"  font-size="20.0">AB</text>
<text x="206.84" y="428.40"  font-size="34">=0</text>
</g>
<g fill="#ff0080">
<text transform="translate(184.54,476.53) scale(0.3906,0.3597)"  class="i" font-size="100" stroke="#fff" stroke-width="1.05">a</text>
<text x="203.54" y="476.60"  font-size="34">=20</text>
</g>
<line x1="360.5" y1="380.4" x2="400.5" y2="380.4" stroke="#800000" stroke-width="1.4" stroke-dasharray="5.8 2.5 1.8 2.5 1.8 2.5"/>
<g fill="#800000"><text transform="translate(407.10,387.20) scale(0.2530,0.1952)"  class="i" font-size="100" stroke="#fff" stroke-width="0.96">n</text><text x="419.21" y="387.20"  font-size="18.2">=1, </text><text transform="translate(449.85,387.20) scale(0.2546,0.1952)"  class="i" font-size="100" stroke="#fff" stroke-width="0.95">m</text><text x="467.39" y="387.20"  font-size="18.2">=0</text></g>
<line x1="360.5" y1="404.2" x2="400.5" y2="404.2" stroke="#333333" stroke-width="1.4" stroke-dasharray="7.2 2.5 1.8 2.5"/>
<g fill="#333333"><text transform="translate(407.10,411.00) scale(0.2530,0.1952)"  class="i" font-size="100" stroke="#fff" stroke-width="0.96">n</text><text x="419.21" y="411.00"  font-size="18.2">=0, |</text><text transform="translate(454.58,411.00) scale(0.2546,0.1952)"  class="i" font-size="100" stroke="#fff" stroke-width="0.95">m</text><text x="471.78" y="411.00"  font-size="18.2">|=3</text></g>
<line x1="360.5" y1="428.0" x2="400.5" y2="428.0" stroke="#808000" stroke-width="1.4" stroke-dasharray="3.4 1.85"/>
<g fill="#808000"><text transform="translate(407.10,434.80) scale(0.2530,0.1952)"  class="i" font-size="100" stroke="#fff" stroke-width="0.96">n</text><text x="419.21" y="434.80"  font-size="18.2">=0, |</text><text transform="translate(454.58,434.80) scale(0.2546,0.1952)"  class="i" font-size="100" stroke="#fff" stroke-width="0.95">m</text><text x="471.78" y="434.80"  font-size="18.2">|=2</text></g>
<line x1="360.5" y1="451.8" x2="400.5" y2="451.8" stroke="#008080" stroke-width="1.4" stroke-dasharray="6.3 5"/>
<g fill="#008080"><text transform="translate(407.10,458.60) scale(0.2530,0.1952)"  class="i" font-size="100" stroke="#fff" stroke-width="0.96">n</text><text x="419.21" y="458.60"  font-size="18.2">=0, |</text><text transform="translate(454.58,458.60) scale(0.2546,0.1952)"  class="i" font-size="100" stroke="#fff" stroke-width="0.95">m</text><text x="471.78" y="458.60"  font-size="18.2">|=1</text></g>
<line x1="360.5" y1="475.6" x2="400.5" y2="475.6" stroke="#0000ff" stroke-width="1.4"/>
<g fill="#0000ff"><text transform="translate(407.10,482.40) scale(0.2530,0.1952)"  class="i" font-size="100" stroke="#fff" stroke-width="0.96">n</text><text x="419.21" y="482.40"  font-size="18.2">=0, </text><text transform="translate(449.85,482.40) scale(0.2546,0.1952)"  class="i" font-size="100" stroke="#fff" stroke-width="0.95">m</text><text x="467.39" y="482.40"  font-size="18.2">=0</text></g>
<line x1="360.5" y1="503.3" x2="402" y2="503.3" stroke="#ff0000" stroke-width="0.9"/>
<g fill="#ff0000"><text transform="translate(408.40,509.19) scale(0.2697,0.2399)"  class="i" font-size="100" stroke="#fff" stroke-width="1.04">f</text><text transform="translate(419.68,509.54) scale(0.1635,0.2095)"  class="s" font-size="100">(</text><text transform="translate(424.99,510.39) scale(0.2395,0.2181)"  class="s" font-size="100">α</text><text transform="translate(438.07,509.54) scale(0.1635,0.2095)"  class="s" font-size="100">)</text></g>
<line x1="354.7" y1="682.7" x2="416.1" y2="682.7" stroke="#800000" stroke-width="1.6" stroke-dasharray="6.4 2.4 1.6 2.4"/>
<g fill="#800000"><text transform="translate(423.23,691.70) scale(0.3259,0.2911)"  class="i" font-size="100" stroke="#fff" stroke-width="1.04">a</text><text x="439.38" y="691.50"  font-size="27">=100</text></g>
<line x1="354.7" y1="717.7" x2="416.1" y2="717.7" stroke="#008080" stroke-width="1.6" stroke-dasharray="2.9 1.8"/>
<g fill="#008080"><text transform="translate(423.23,726.70) scale(0.3259,0.2911)"  class="i" font-size="100" stroke="#fff" stroke-width="1.04">a</text><text x="439.38" y="726.50"  font-size="27">=20</text></g>
<line x1="354.7" y1="752.8" x2="416.1" y2="752.8" stroke="#0000ff" stroke-width="1.6" stroke-dasharray="5.3 4.8"/>
<g fill="#0000ff"><text transform="translate(423.23,761.70) scale(0.3259,0.2911)"  class="i" font-size="100" stroke="#fff" stroke-width="1.04">a</text><text x="439.38" y="761.50"  font-size="27">=1</text></g>
<line x1="354.7" y1="787.8" x2="416.1" y2="787.8" stroke="#ff0000" stroke-width="1.6"/>
<g fill="#ff0000"><text transform="translate(423.23,796.70) scale(0.3259,0.2911)"  class="i" font-size="100" stroke="#fff" stroke-width="1.04">a</text><text x="439.38" y="796.50"  font-size="27">=0</text></g>
<g fill="#ff0080">
<text transform="translate(160.04,845.20) scale(0.3264,0.2377)"  class="i" font-size="100" stroke="#fff" stroke-width="0.93">n</text>
<text x="175.68" y="845.20"  font-size="23">=0, </text>
<text transform="translate(214.16,845.20) scale(0.3167,0.2377)"  class="i" font-size="100" stroke="#fff" stroke-width="0.94">m</text>
<text x="236.48" y="845.20"  font-size="23">=0</text>
</g>
<g fill="#008080">
<text transform="translate(297.61,843.55) scale(0.2926,0.2746)"  class="s" font-size="100">ϕ</text>
<text x="312.00" y="856.00"  font-size="18.2">AB</text>
<text x="335.96" y="844.00"  font-size="31.5">=0</text>
</g>
</svg></body></html>
